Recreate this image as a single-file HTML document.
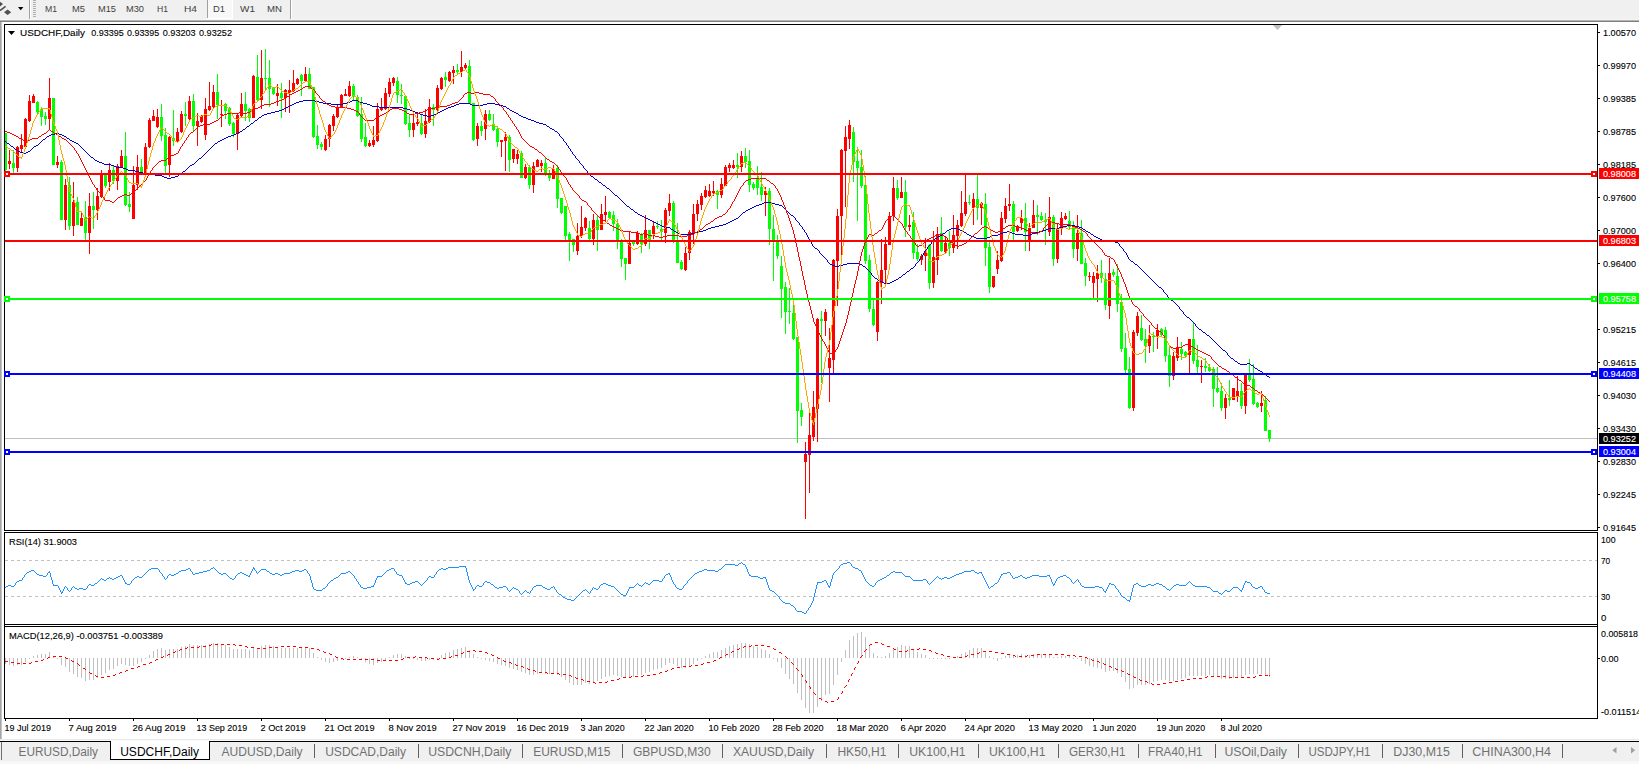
<!DOCTYPE html>
<html><head><meta charset="utf-8"><title>USDCHF,Daily</title>
<style>html,body{margin:0;padding:0;background:#f0f0f0;overflow:hidden}svg{display:block}text{font-family:"Liberation Sans",sans-serif;white-space:pre}</style></head>
<body>
<svg width="1639" height="764" viewBox="0 0 1639 764">
<rect x="0" y="0" width="1639" height="764" fill="#f0f0f0"/>
<rect x="0" y="19" width="1639" height="1" fill="#f6f6f6"/>
<rect x="0" y="20" width="1639" height="1" fill="#b4b4b4"/>
<rect x="0" y="21" width="1639" height="1" fill="#808080"/>
<rect x="1" y="22" width="1638" height="717" fill="#ffffff"/>
<rect x="0" y="22" width="1" height="718" fill="#a6a6a6"/>
<rect x="1" y="22" width="1" height="718" fill="#c4c4c4"/>
<g fill="#505050"><path d="M0 1.8 L3 4 L0 6.4 Z"/><path d="M4 12.3 L7.6 9.5 L11.2 12.3 L7.6 15.1 Z"/></g>
<path d="M0 10.6 L5.6 6.3" stroke="#505050" stroke-width="1.6" fill="none"/>
<path d="M18 7 L23.4 7 L20.7 10.3 Z" fill="#000"/>
<rect x="29" y="0" width="1" height="19" fill="#a0a0a0"/>
<rect x="30" y="0" width="1" height="19" fill="#ffffff"/>
<rect x="33" y="0" width="3" height="1" fill="#b0b0b0"/>
<rect x="33" y="2" width="3" height="1" fill="#b0b0b0"/>
<rect x="33" y="4" width="3" height="1" fill="#b0b0b0"/>
<rect x="33" y="6" width="3" height="1" fill="#b0b0b0"/>
<rect x="33" y="8" width="3" height="1" fill="#b0b0b0"/>
<rect x="33" y="10" width="3" height="1" fill="#b0b0b0"/>
<rect x="33" y="12" width="3" height="1" fill="#b0b0b0"/>
<rect x="33" y="14" width="3" height="1" fill="#b0b0b0"/>
<rect x="33" y="16" width="3" height="1" fill="#b0b0b0"/>
<rect x="208" y="0" width="25" height="18" fill="#f8f8f8"/>
<rect x="207" y="0" width="1" height="18" fill="#a0a0a0"/>
<rect x="232" y="0" width="1" height="19" fill="#ffffff"/>
<rect x="207" y="18" width="26" height="1" fill="#ffffff"/>
<text x="45" y="12" font-size="9.6" fill="#404040" textLength="12" lengthAdjust="spacingAndGlyphs">M1</text>
<text x="72" y="12" font-size="9.6" fill="#404040" textLength="13" lengthAdjust="spacingAndGlyphs">M5</text>
<text x="98" y="12" font-size="9.6" fill="#404040" textLength="18" lengthAdjust="spacingAndGlyphs">M15</text>
<text x="126" y="12" font-size="9.6" fill="#404040" textLength="18" lengthAdjust="spacingAndGlyphs">M30</text>
<text x="157" y="12" font-size="9.6" fill="#404040" textLength="11" lengthAdjust="spacingAndGlyphs">H1</text>
<text x="184" y="12" font-size="9.6" fill="#404040" textLength="13" lengthAdjust="spacingAndGlyphs">H4</text>
<text x="213" y="12" font-size="9.6" fill="#404040" textLength="12" lengthAdjust="spacingAndGlyphs">D1</text>
<text x="240" y="12" font-size="9.6" fill="#404040" textLength="15" lengthAdjust="spacingAndGlyphs">W1</text>
<text x="267" y="12" font-size="9.6" fill="#404040" textLength="15" lengthAdjust="spacingAndGlyphs">MN</text>
<rect x="290" y="0" width="1" height="19" fill="#a0a0a0"/>
<rect x="291" y="0" width="1" height="19" fill="#ffffff"/>
<path d="M1272.8 25 L1282.2 25 L1277.5 30 Z" fill="#c0c0c0"/>
<rect x="5" y="438" width="1592" height="1" fill="#c0c0c0"/>
<g shape-rendering="crispEdges">
<rect x="5" y="133" width="1" height="38" fill="#00ff00"/>
<rect x="4" y="133" width="3" height="37" fill="#00ff00"/>
<rect x="9" y="150" width="1" height="19" fill="#ff0000"/>
<rect x="8" y="161" width="3" height="3" fill="#ff0000"/>
<rect x="13" y="150" width="1" height="23" fill="#00ff00"/>
<rect x="12" y="163" width="3" height="5" fill="#00ff00"/>
<rect x="17" y="146" width="1" height="26" fill="#ff0000"/>
<rect x="16" y="147" width="3" height="21" fill="#ff0000"/>
<rect x="21" y="134" width="1" height="19" fill="#ff0000"/>
<rect x="20" y="145" width="3" height="4" fill="#ff0000"/>
<rect x="25" y="118" width="1" height="29" fill="#ff0000"/>
<rect x="24" y="119" width="3" height="28" fill="#ff0000"/>
<rect x="29" y="95" width="1" height="27" fill="#ff0000"/>
<rect x="28" y="101" width="3" height="20" fill="#ff0000"/>
<rect x="33" y="94" width="1" height="9" fill="#ff0000"/>
<rect x="32" y="96" width="3" height="7" fill="#ff0000"/>
<rect x="37" y="101" width="1" height="14" fill="#00ff00"/>
<rect x="36" y="102" width="3" height="10" fill="#00ff00"/>
<rect x="41" y="107" width="1" height="19" fill="#00ff00"/>
<rect x="40" y="109" width="3" height="8" fill="#00ff00"/>
<rect x="45" y="112" width="1" height="13" fill="#00ff00"/>
<rect x="44" y="116" width="3" height="3" fill="#00ff00"/>
<rect x="49" y="78" width="1" height="51" fill="#ff0000"/>
<rect x="48" y="98" width="3" height="21" fill="#ff0000"/>
<rect x="53" y="98" width="1" height="67" fill="#00ff00"/>
<rect x="52" y="98" width="3" height="67" fill="#00ff00"/>
<rect x="57" y="156" width="1" height="12" fill="#ff0000"/>
<rect x="56" y="162" width="3" height="3" fill="#ff0000"/>
<rect x="61" y="160" width="1" height="60" fill="#00ff00"/>
<rect x="60" y="162" width="3" height="58" fill="#00ff00"/>
<rect x="65" y="179" width="1" height="51" fill="#ff0000"/>
<rect x="64" y="185" width="3" height="35" fill="#ff0000"/>
<rect x="69" y="177" width="1" height="53" fill="#00ff00"/>
<rect x="68" y="185" width="3" height="41" fill="#00ff00"/>
<rect x="73" y="182" width="1" height="54" fill="#ff0000"/>
<rect x="72" y="202" width="3" height="24" fill="#ff0000"/>
<rect x="77" y="197" width="1" height="28" fill="#00ff00"/>
<rect x="76" y="202" width="3" height="23" fill="#00ff00"/>
<rect x="81" y="213" width="1" height="13" fill="#ff0000"/>
<rect x="80" y="218" width="3" height="8" fill="#ff0000"/>
<rect x="85" y="201" width="1" height="39" fill="#00ff00"/>
<rect x="84" y="217" width="3" height="16" fill="#00ff00"/>
<rect x="89" y="193" width="1" height="61" fill="#ff0000"/>
<rect x="88" y="206" width="3" height="27" fill="#ff0000"/>
<rect x="93" y="192" width="1" height="37" fill="#00ff00"/>
<rect x="92" y="206" width="3" height="4" fill="#00ff00"/>
<rect x="97" y="188" width="1" height="32" fill="#ff0000"/>
<rect x="96" y="196" width="3" height="14" fill="#ff0000"/>
<rect x="101" y="170" width="1" height="28" fill="#ff0000"/>
<rect x="100" y="174" width="3" height="23" fill="#ff0000"/>
<rect x="105" y="174" width="1" height="14" fill="#00ff00"/>
<rect x="104" y="174" width="3" height="12" fill="#00ff00"/>
<rect x="109" y="163" width="1" height="28" fill="#ff0000"/>
<rect x="108" y="170" width="3" height="12" fill="#ff0000"/>
<rect x="113" y="166" width="1" height="18" fill="#00ff00"/>
<rect x="112" y="170" width="3" height="11" fill="#00ff00"/>
<rect x="117" y="164" width="1" height="26" fill="#ff0000"/>
<rect x="116" y="166" width="3" height="15" fill="#ff0000"/>
<rect x="121" y="150" width="1" height="18" fill="#ff0000"/>
<rect x="120" y="156" width="3" height="11" fill="#ff0000"/>
<rect x="125" y="132" width="1" height="74" fill="#00ff00"/>
<rect x="124" y="156" width="3" height="49" fill="#00ff00"/>
<rect x="129" y="192" width="1" height="20" fill="#00ff00"/>
<rect x="128" y="204" width="3" height="3" fill="#00ff00"/>
<rect x="133" y="166" width="1" height="53" fill="#ff0000"/>
<rect x="132" y="185" width="3" height="34" fill="#ff0000"/>
<rect x="137" y="155" width="1" height="35" fill="#ff0000"/>
<rect x="136" y="167" width="3" height="18" fill="#ff0000"/>
<rect x="141" y="159" width="1" height="15" fill="#00ff00"/>
<rect x="140" y="167" width="3" height="6" fill="#00ff00"/>
<rect x="145" y="143" width="1" height="31" fill="#ff0000"/>
<rect x="144" y="147" width="3" height="26" fill="#ff0000"/>
<rect x="149" y="118" width="1" height="30" fill="#ff0000"/>
<rect x="148" y="120" width="3" height="27" fill="#ff0000"/>
<rect x="153" y="110" width="1" height="11" fill="#ff0000"/>
<rect x="152" y="116" width="3" height="5" fill="#ff0000"/>
<rect x="157" y="109" width="1" height="19" fill="#ff0000"/>
<rect x="156" y="117" width="3" height="10" fill="#ff0000"/>
<rect x="161" y="104" width="1" height="37" fill="#00ff00"/>
<rect x="160" y="117" width="3" height="19" fill="#00ff00"/>
<rect x="165" y="128" width="1" height="45" fill="#00ff00"/>
<rect x="164" y="135" width="3" height="31" fill="#00ff00"/>
<rect x="169" y="136" width="1" height="41" fill="#ff0000"/>
<rect x="168" y="137" width="3" height="28" fill="#ff0000"/>
<rect x="173" y="110" width="1" height="36" fill="#00ff00"/>
<rect x="172" y="138" width="3" height="3" fill="#00ff00"/>
<rect x="177" y="128" width="1" height="15" fill="#ff0000"/>
<rect x="176" y="132" width="3" height="9" fill="#ff0000"/>
<rect x="181" y="111" width="1" height="22" fill="#ff0000"/>
<rect x="180" y="114" width="3" height="18" fill="#ff0000"/>
<rect x="185" y="102" width="1" height="24" fill="#00ff00"/>
<rect x="184" y="114" width="3" height="2" fill="#00ff00"/>
<rect x="189" y="96" width="1" height="24" fill="#ff0000"/>
<rect x="188" y="101" width="3" height="18" fill="#ff0000"/>
<rect x="193" y="94" width="1" height="37" fill="#00ff00"/>
<rect x="192" y="101" width="3" height="25" fill="#00ff00"/>
<rect x="197" y="113" width="1" height="33" fill="#ff0000"/>
<rect x="196" y="121" width="3" height="5" fill="#ff0000"/>
<rect x="201" y="115" width="1" height="8" fill="#ff0000"/>
<rect x="200" y="116" width="3" height="6" fill="#ff0000"/>
<rect x="205" y="98" width="1" height="42" fill="#ff0000"/>
<rect x="204" y="109" width="3" height="26" fill="#ff0000"/>
<rect x="209" y="82" width="1" height="29" fill="#ff0000"/>
<rect x="208" y="106" width="3" height="4" fill="#ff0000"/>
<rect x="213" y="85" width="1" height="23" fill="#ff0000"/>
<rect x="212" y="92" width="3" height="15" fill="#ff0000"/>
<rect x="217" y="74" width="1" height="45" fill="#00ff00"/>
<rect x="216" y="92" width="3" height="13" fill="#00ff00"/>
<rect x="221" y="100" width="1" height="27" fill="#ff0000"/>
<rect x="220" y="114" width="3" height="1" fill="#ff0000"/>
<rect x="225" y="103" width="1" height="16" fill="#00ff00"/>
<rect x="224" y="104" width="3" height="7" fill="#00ff00"/>
<rect x="229" y="107" width="1" height="19" fill="#00ff00"/>
<rect x="228" y="108" width="3" height="16" fill="#00ff00"/>
<rect x="233" y="122" width="1" height="15" fill="#00ff00"/>
<rect x="232" y="123" width="3" height="11" fill="#00ff00"/>
<rect x="237" y="114" width="1" height="36" fill="#ff0000"/>
<rect x="236" y="115" width="3" height="19" fill="#ff0000"/>
<rect x="241" y="93" width="1" height="24" fill="#ff0000"/>
<rect x="240" y="104" width="3" height="12" fill="#ff0000"/>
<rect x="245" y="92" width="1" height="29" fill="#00ff00"/>
<rect x="244" y="104" width="3" height="7" fill="#00ff00"/>
<rect x="249" y="108" width="1" height="14" fill="#00ff00"/>
<rect x="248" y="109" width="3" height="9" fill="#00ff00"/>
<rect x="253" y="75" width="1" height="43" fill="#ff0000"/>
<rect x="252" y="76" width="3" height="42" fill="#ff0000"/>
<rect x="257" y="55" width="1" height="46" fill="#00ff00"/>
<rect x="256" y="77" width="3" height="23" fill="#00ff00"/>
<rect x="261" y="50" width="1" height="59" fill="#ff0000"/>
<rect x="260" y="78" width="3" height="22" fill="#ff0000"/>
<rect x="265" y="49" width="1" height="41" fill="#00ff00"/>
<rect x="264" y="78" width="3" height="1" fill="#00ff00"/>
<rect x="269" y="60" width="1" height="47" fill="#00ff00"/>
<rect x="268" y="78" width="3" height="11" fill="#00ff00"/>
<rect x="273" y="87" width="1" height="8" fill="#00ff00"/>
<rect x="272" y="88" width="3" height="6" fill="#00ff00"/>
<rect x="277" y="84" width="1" height="22" fill="#ff0000"/>
<rect x="276" y="93" width="3" height="3" fill="#ff0000"/>
<rect x="281" y="83" width="1" height="35" fill="#00ff00"/>
<rect x="280" y="93" width="3" height="5" fill="#00ff00"/>
<rect x="285" y="89" width="1" height="23" fill="#ff0000"/>
<rect x="284" y="90" width="3" height="8" fill="#ff0000"/>
<rect x="289" y="80" width="1" height="33" fill="#ff0000"/>
<rect x="288" y="90" width="3" height="3" fill="#ff0000"/>
<rect x="293" y="70" width="1" height="22" fill="#ff0000"/>
<rect x="292" y="83" width="3" height="8" fill="#ff0000"/>
<rect x="297" y="78" width="1" height="7" fill="#ff0000"/>
<rect x="296" y="79" width="3" height="5" fill="#ff0000"/>
<rect x="301" y="74" width="1" height="22" fill="#00ff00"/>
<rect x="300" y="75" width="3" height="6" fill="#00ff00"/>
<rect x="305" y="67" width="1" height="15" fill="#ff0000"/>
<rect x="304" y="74" width="3" height="7" fill="#ff0000"/>
<rect x="309" y="68" width="1" height="21" fill="#00ff00"/>
<rect x="308" y="74" width="3" height="15" fill="#00ff00"/>
<rect x="313" y="87" width="1" height="51" fill="#00ff00"/>
<rect x="312" y="87" width="3" height="50" fill="#00ff00"/>
<rect x="317" y="125" width="1" height="24" fill="#00ff00"/>
<rect x="316" y="136" width="3" height="9" fill="#00ff00"/>
<rect x="321" y="142" width="1" height="8" fill="#00ff00"/>
<rect x="320" y="144" width="3" height="3" fill="#00ff00"/>
<rect x="325" y="135" width="1" height="16" fill="#ff0000"/>
<rect x="324" y="139" width="3" height="11" fill="#ff0000"/>
<rect x="329" y="124" width="1" height="23" fill="#ff0000"/>
<rect x="328" y="125" width="3" height="14" fill="#ff0000"/>
<rect x="333" y="114" width="1" height="17" fill="#ff0000"/>
<rect x="332" y="116" width="3" height="10" fill="#ff0000"/>
<rect x="337" y="105" width="1" height="13" fill="#ff0000"/>
<rect x="336" y="107" width="3" height="10" fill="#ff0000"/>
<rect x="341" y="94" width="1" height="14" fill="#ff0000"/>
<rect x="340" y="95" width="3" height="13" fill="#ff0000"/>
<rect x="345" y="89" width="1" height="7" fill="#ff0000"/>
<rect x="344" y="94" width="3" height="2" fill="#ff0000"/>
<rect x="349" y="81" width="1" height="16" fill="#ff0000"/>
<rect x="348" y="86" width="3" height="10" fill="#ff0000"/>
<rect x="353" y="84" width="1" height="16" fill="#00ff00"/>
<rect x="352" y="86" width="3" height="11" fill="#00ff00"/>
<rect x="357" y="95" width="1" height="22" fill="#00ff00"/>
<rect x="356" y="97" width="3" height="19" fill="#00ff00"/>
<rect x="361" y="97" width="1" height="45" fill="#00ff00"/>
<rect x="360" y="114" width="3" height="25" fill="#00ff00"/>
<rect x="365" y="123" width="1" height="24" fill="#00ff00"/>
<rect x="364" y="137" width="3" height="9" fill="#00ff00"/>
<rect x="369" y="140" width="1" height="7" fill="#ff0000"/>
<rect x="368" y="143" width="3" height="3" fill="#ff0000"/>
<rect x="373" y="126" width="1" height="21" fill="#ff0000"/>
<rect x="372" y="140" width="3" height="5" fill="#ff0000"/>
<rect x="377" y="103" width="1" height="39" fill="#ff0000"/>
<rect x="376" y="109" width="3" height="32" fill="#ff0000"/>
<rect x="381" y="98" width="1" height="13" fill="#ff0000"/>
<rect x="380" y="107" width="3" height="3" fill="#ff0000"/>
<rect x="385" y="88" width="1" height="22" fill="#ff0000"/>
<rect x="384" y="93" width="3" height="16" fill="#ff0000"/>
<rect x="389" y="78" width="1" height="19" fill="#ff0000"/>
<rect x="388" y="82" width="3" height="12" fill="#ff0000"/>
<rect x="393" y="77" width="1" height="9" fill="#ff0000"/>
<rect x="392" y="78" width="3" height="5" fill="#ff0000"/>
<rect x="397" y="77" width="1" height="26" fill="#00ff00"/>
<rect x="396" y="81" width="3" height="14" fill="#00ff00"/>
<rect x="401" y="84" width="1" height="20" fill="#00ff00"/>
<rect x="400" y="95" width="3" height="1" fill="#00ff00"/>
<rect x="405" y="95" width="1" height="30" fill="#00ff00"/>
<rect x="404" y="96" width="3" height="28" fill="#00ff00"/>
<rect x="409" y="115" width="1" height="22" fill="#00ff00"/>
<rect x="408" y="123" width="3" height="7" fill="#00ff00"/>
<rect x="413" y="115" width="1" height="22" fill="#ff0000"/>
<rect x="412" y="123" width="3" height="7" fill="#ff0000"/>
<rect x="417" y="114" width="1" height="12" fill="#ff0000"/>
<rect x="416" y="122" width="3" height="2" fill="#ff0000"/>
<rect x="421" y="115" width="1" height="20" fill="#00ff00"/>
<rect x="420" y="123" width="3" height="11" fill="#00ff00"/>
<rect x="425" y="109" width="1" height="29" fill="#ff0000"/>
<rect x="424" y="121" width="3" height="13" fill="#ff0000"/>
<rect x="429" y="99" width="1" height="24" fill="#ff0000"/>
<rect x="428" y="107" width="3" height="15" fill="#ff0000"/>
<rect x="433" y="104" width="1" height="22" fill="#00ff00"/>
<rect x="432" y="107" width="3" height="3" fill="#00ff00"/>
<rect x="437" y="85" width="1" height="26" fill="#ff0000"/>
<rect x="436" y="88" width="3" height="22" fill="#ff0000"/>
<rect x="441" y="77" width="1" height="13" fill="#ff0000"/>
<rect x="440" y="78" width="3" height="11" fill="#ff0000"/>
<rect x="445" y="72" width="1" height="15" fill="#00ff00"/>
<rect x="444" y="77" width="3" height="3" fill="#00ff00"/>
<rect x="449" y="71" width="1" height="11" fill="#ff0000"/>
<rect x="448" y="72" width="3" height="9" fill="#ff0000"/>
<rect x="453" y="66" width="1" height="18" fill="#ff0000"/>
<rect x="452" y="70" width="3" height="3" fill="#ff0000"/>
<rect x="457" y="64" width="1" height="10" fill="#00ff00"/>
<rect x="456" y="70" width="3" height="2" fill="#00ff00"/>
<rect x="461" y="51" width="1" height="26" fill="#ff0000"/>
<rect x="460" y="67" width="3" height="5" fill="#ff0000"/>
<rect x="465" y="63" width="1" height="6" fill="#ff0000"/>
<rect x="464" y="65" width="3" height="3" fill="#ff0000"/>
<rect x="469" y="60" width="1" height="44" fill="#00ff00"/>
<rect x="468" y="66" width="3" height="38" fill="#00ff00"/>
<rect x="473" y="103" width="1" height="38" fill="#00ff00"/>
<rect x="472" y="103" width="3" height="37" fill="#00ff00"/>
<rect x="477" y="123" width="1" height="23" fill="#ff0000"/>
<rect x="476" y="126" width="3" height="13" fill="#ff0000"/>
<rect x="481" y="121" width="1" height="15" fill="#00ff00"/>
<rect x="480" y="126" width="3" height="5" fill="#00ff00"/>
<rect x="485" y="110" width="1" height="30" fill="#ff0000"/>
<rect x="484" y="114" width="3" height="15" fill="#ff0000"/>
<rect x="489" y="110" width="1" height="11" fill="#00ff00"/>
<rect x="488" y="114" width="3" height="6" fill="#00ff00"/>
<rect x="493" y="114" width="1" height="17" fill="#00ff00"/>
<rect x="492" y="124" width="3" height="6" fill="#00ff00"/>
<rect x="497" y="126" width="1" height="21" fill="#00ff00"/>
<rect x="496" y="129" width="3" height="13" fill="#00ff00"/>
<rect x="501" y="140" width="1" height="17" fill="#ff0000"/>
<rect x="500" y="140" width="3" height="2" fill="#ff0000"/>
<rect x="505" y="132" width="1" height="39" fill="#ff0000"/>
<rect x="504" y="137" width="3" height="4" fill="#ff0000"/>
<rect x="509" y="135" width="1" height="37" fill="#00ff00"/>
<rect x="508" y="137" width="3" height="23" fill="#00ff00"/>
<rect x="513" y="149" width="1" height="14" fill="#ff0000"/>
<rect x="512" y="149" width="3" height="10" fill="#ff0000"/>
<rect x="517" y="150" width="1" height="14" fill="#ff0000"/>
<rect x="516" y="154" width="3" height="5" fill="#ff0000"/>
<rect x="521" y="151" width="1" height="27" fill="#00ff00"/>
<rect x="520" y="153" width="3" height="25" fill="#00ff00"/>
<rect x="525" y="164" width="1" height="15" fill="#ff0000"/>
<rect x="524" y="167" width="3" height="11" fill="#ff0000"/>
<rect x="529" y="165" width="1" height="24" fill="#00ff00"/>
<rect x="528" y="167" width="3" height="18" fill="#00ff00"/>
<rect x="533" y="162" width="1" height="31" fill="#ff0000"/>
<rect x="532" y="166" width="3" height="19" fill="#ff0000"/>
<rect x="537" y="159" width="1" height="8" fill="#ff0000"/>
<rect x="536" y="160" width="3" height="7" fill="#ff0000"/>
<rect x="541" y="160" width="1" height="12" fill="#ff0000"/>
<rect x="540" y="163" width="3" height="3" fill="#ff0000"/>
<rect x="545" y="158" width="1" height="18" fill="#00ff00"/>
<rect x="544" y="163" width="3" height="10" fill="#00ff00"/>
<rect x="549" y="170" width="1" height="11" fill="#00ff00"/>
<rect x="548" y="175" width="3" height="3" fill="#00ff00"/>
<rect x="553" y="165" width="1" height="14" fill="#ff0000"/>
<rect x="552" y="169" width="3" height="10" fill="#ff0000"/>
<rect x="557" y="165" width="1" height="43" fill="#00ff00"/>
<rect x="556" y="168" width="3" height="31" fill="#00ff00"/>
<rect x="561" y="198" width="1" height="16" fill="#00ff00"/>
<rect x="560" y="198" width="3" height="15" fill="#00ff00"/>
<rect x="565" y="206" width="1" height="34" fill="#00ff00"/>
<rect x="564" y="206" width="3" height="30" fill="#00ff00"/>
<rect x="569" y="232" width="1" height="29" fill="#00ff00"/>
<rect x="568" y="234" width="3" height="7" fill="#00ff00"/>
<rect x="573" y="239" width="1" height="13" fill="#00ff00"/>
<rect x="572" y="239" width="3" height="6" fill="#00ff00"/>
<rect x="577" y="223" width="1" height="32" fill="#ff0000"/>
<rect x="576" y="236" width="3" height="15" fill="#ff0000"/>
<rect x="581" y="206" width="1" height="32" fill="#ff0000"/>
<rect x="580" y="227" width="3" height="9" fill="#ff0000"/>
<rect x="585" y="217" width="1" height="14" fill="#ff0000"/>
<rect x="584" y="218" width="3" height="10" fill="#ff0000"/>
<rect x="589" y="221" width="1" height="19" fill="#00ff00"/>
<rect x="588" y="228" width="3" height="11" fill="#00ff00"/>
<rect x="593" y="214" width="1" height="31" fill="#ff0000"/>
<rect x="592" y="220" width="3" height="19" fill="#ff0000"/>
<rect x="597" y="216" width="1" height="35" fill="#00ff00"/>
<rect x="596" y="220" width="3" height="10" fill="#00ff00"/>
<rect x="601" y="204" width="1" height="26" fill="#ff0000"/>
<rect x="600" y="214" width="3" height="16" fill="#ff0000"/>
<rect x="605" y="196" width="1" height="25" fill="#ff0000"/>
<rect x="604" y="212" width="3" height="3" fill="#ff0000"/>
<rect x="609" y="211" width="1" height="7" fill="#00ff00"/>
<rect x="608" y="212" width="3" height="6" fill="#00ff00"/>
<rect x="613" y="211" width="1" height="20" fill="#00ff00"/>
<rect x="612" y="215" width="3" height="9" fill="#00ff00"/>
<rect x="617" y="219" width="1" height="30" fill="#00ff00"/>
<rect x="616" y="224" width="3" height="16" fill="#00ff00"/>
<rect x="621" y="239" width="1" height="28" fill="#00ff00"/>
<rect x="620" y="242" width="3" height="17" fill="#00ff00"/>
<rect x="625" y="258" width="1" height="22" fill="#00ff00"/>
<rect x="624" y="258" width="3" height="6" fill="#00ff00"/>
<rect x="629" y="232" width="1" height="32" fill="#ff0000"/>
<rect x="628" y="243" width="3" height="21" fill="#ff0000"/>
<rect x="633" y="242" width="1" height="4" fill="#00ff00"/>
<rect x="632" y="242" width="3" height="2" fill="#00ff00"/>
<rect x="637" y="231" width="1" height="14" fill="#ff0000"/>
<rect x="636" y="233" width="3" height="11" fill="#ff0000"/>
<rect x="641" y="233" width="1" height="20" fill="#00ff00"/>
<rect x="640" y="234" width="3" height="10" fill="#00ff00"/>
<rect x="645" y="215" width="1" height="31" fill="#ff0000"/>
<rect x="644" y="230" width="3" height="14" fill="#ff0000"/>
<rect x="649" y="230" width="1" height="19" fill="#00ff00"/>
<rect x="648" y="230" width="3" height="11" fill="#00ff00"/>
<rect x="653" y="222" width="1" height="17" fill="#ff0000"/>
<rect x="652" y="226" width="3" height="8" fill="#ff0000"/>
<rect x="657" y="221" width="1" height="8" fill="#00ff00"/>
<rect x="656" y="226" width="3" height="1" fill="#00ff00"/>
<rect x="661" y="220" width="1" height="21" fill="#00ff00"/>
<rect x="660" y="229" width="3" height="3" fill="#00ff00"/>
<rect x="665" y="208" width="1" height="35" fill="#ff0000"/>
<rect x="664" y="210" width="3" height="23" fill="#ff0000"/>
<rect x="669" y="194" width="1" height="22" fill="#ff0000"/>
<rect x="668" y="203" width="3" height="8" fill="#ff0000"/>
<rect x="673" y="201" width="1" height="42" fill="#00ff00"/>
<rect x="672" y="203" width="3" height="38" fill="#00ff00"/>
<rect x="677" y="223" width="1" height="40" fill="#00ff00"/>
<rect x="676" y="241" width="3" height="22" fill="#00ff00"/>
<rect x="681" y="260" width="1" height="10" fill="#00ff00"/>
<rect x="680" y="262" width="3" height="7" fill="#00ff00"/>
<rect x="685" y="247" width="1" height="24" fill="#ff0000"/>
<rect x="684" y="253" width="3" height="17" fill="#ff0000"/>
<rect x="689" y="230" width="1" height="30" fill="#ff0000"/>
<rect x="688" y="232" width="3" height="21" fill="#ff0000"/>
<rect x="693" y="204" width="1" height="40" fill="#ff0000"/>
<rect x="692" y="214" width="3" height="19" fill="#ff0000"/>
<rect x="697" y="200" width="1" height="21" fill="#ff0000"/>
<rect x="696" y="204" width="3" height="10" fill="#ff0000"/>
<rect x="701" y="193" width="1" height="17" fill="#ff0000"/>
<rect x="700" y="196" width="3" height="9" fill="#ff0000"/>
<rect x="705" y="186" width="1" height="12" fill="#ff0000"/>
<rect x="704" y="190" width="3" height="7" fill="#ff0000"/>
<rect x="709" y="184" width="1" height="13" fill="#ff0000"/>
<rect x="708" y="191" width="3" height="5" fill="#ff0000"/>
<rect x="713" y="181" width="1" height="15" fill="#ff0000"/>
<rect x="712" y="191" width="3" height="2" fill="#ff0000"/>
<rect x="717" y="190" width="1" height="19" fill="#00ff00"/>
<rect x="716" y="191" width="3" height="4" fill="#00ff00"/>
<rect x="721" y="178" width="1" height="20" fill="#ff0000"/>
<rect x="720" y="184" width="3" height="11" fill="#ff0000"/>
<rect x="725" y="165" width="1" height="21" fill="#ff0000"/>
<rect x="724" y="167" width="3" height="19" fill="#ff0000"/>
<rect x="729" y="163" width="1" height="9" fill="#ff0000"/>
<rect x="728" y="165" width="3" height="3" fill="#ff0000"/>
<rect x="733" y="160" width="1" height="9" fill="#ff0000"/>
<rect x="732" y="165" width="3" height="3" fill="#ff0000"/>
<rect x="737" y="153" width="1" height="25" fill="#00ff00"/>
<rect x="736" y="165" width="3" height="2" fill="#00ff00"/>
<rect x="741" y="151" width="1" height="21" fill="#ff0000"/>
<rect x="740" y="156" width="3" height="11" fill="#ff0000"/>
<rect x="745" y="148" width="1" height="20" fill="#00ff00"/>
<rect x="744" y="156" width="3" height="6" fill="#00ff00"/>
<rect x="749" y="150" width="1" height="42" fill="#00ff00"/>
<rect x="748" y="161" width="3" height="24" fill="#00ff00"/>
<rect x="753" y="182" width="1" height="8" fill="#00ff00"/>
<rect x="752" y="184" width="3" height="4" fill="#00ff00"/>
<rect x="757" y="166" width="1" height="29" fill="#00ff00"/>
<rect x="756" y="178" width="3" height="10" fill="#00ff00"/>
<rect x="761" y="172" width="1" height="29" fill="#00ff00"/>
<rect x="760" y="187" width="3" height="8" fill="#00ff00"/>
<rect x="765" y="187" width="1" height="29" fill="#ff0000"/>
<rect x="764" y="191" width="3" height="4" fill="#ff0000"/>
<rect x="769" y="188" width="1" height="57" fill="#00ff00"/>
<rect x="768" y="191" width="3" height="38" fill="#00ff00"/>
<rect x="773" y="215" width="1" height="66" fill="#00ff00"/>
<rect x="772" y="229" width="3" height="12" fill="#00ff00"/>
<rect x="777" y="235" width="1" height="24" fill="#00ff00"/>
<rect x="776" y="241" width="3" height="15" fill="#00ff00"/>
<rect x="781" y="256" width="1" height="62" fill="#00ff00"/>
<rect x="780" y="266" width="3" height="23" fill="#00ff00"/>
<rect x="785" y="282" width="1" height="52" fill="#00ff00"/>
<rect x="784" y="287" width="3" height="25" fill="#00ff00"/>
<rect x="789" y="288" width="1" height="36" fill="#00ff00"/>
<rect x="788" y="311" width="3" height="1" fill="#00ff00"/>
<rect x="793" y="305" width="1" height="35" fill="#00ff00"/>
<rect x="792" y="313" width="3" height="26" fill="#00ff00"/>
<rect x="797" y="337" width="1" height="106" fill="#00ff00"/>
<rect x="796" y="337" width="3" height="74" fill="#00ff00"/>
<rect x="801" y="403" width="1" height="23" fill="#00ff00"/>
<rect x="800" y="410" width="3" height="7" fill="#00ff00"/>
<rect x="805" y="442" width="1" height="77" fill="#ff0000"/>
<rect x="804" y="454" width="3" height="8" fill="#ff0000"/>
<rect x="809" y="413" width="1" height="80" fill="#ff0000"/>
<rect x="808" y="435" width="3" height="20" fill="#ff0000"/>
<rect x="813" y="391" width="1" height="50" fill="#ff0000"/>
<rect x="812" y="407" width="3" height="30" fill="#ff0000"/>
<rect x="817" y="318" width="1" height="124" fill="#ff0000"/>
<rect x="816" y="319" width="3" height="90" fill="#ff0000"/>
<rect x="821" y="311" width="1" height="72" fill="#00ff00"/>
<rect x="820" y="319" width="3" height="2" fill="#00ff00"/>
<rect x="825" y="309" width="1" height="27" fill="#ff0000"/>
<rect x="824" y="312" width="3" height="9" fill="#ff0000"/>
<rect x="829" y="328" width="1" height="74" fill="#ff0000"/>
<rect x="828" y="358" width="3" height="10" fill="#ff0000"/>
<rect x="833" y="259" width="1" height="114" fill="#ff0000"/>
<rect x="832" y="260" width="3" height="100" fill="#ff0000"/>
<rect x="837" y="209" width="1" height="97" fill="#ff0000"/>
<rect x="836" y="216" width="3" height="45" fill="#ff0000"/>
<rect x="841" y="149" width="1" height="106" fill="#ff0000"/>
<rect x="840" y="150" width="3" height="66" fill="#ff0000"/>
<rect x="845" y="126" width="1" height="81" fill="#ff0000"/>
<rect x="844" y="137" width="3" height="14" fill="#ff0000"/>
<rect x="849" y="120" width="1" height="29" fill="#ff0000"/>
<rect x="848" y="125" width="3" height="14" fill="#ff0000"/>
<rect x="853" y="127" width="1" height="55" fill="#00ff00"/>
<rect x="852" y="132" width="3" height="30" fill="#00ff00"/>
<rect x="857" y="147" width="1" height="74" fill="#00ff00"/>
<rect x="856" y="161" width="3" height="7" fill="#00ff00"/>
<rect x="861" y="150" width="1" height="38" fill="#00ff00"/>
<rect x="860" y="167" width="3" height="19" fill="#00ff00"/>
<rect x="865" y="176" width="1" height="88" fill="#00ff00"/>
<rect x="864" y="185" width="3" height="76" fill="#00ff00"/>
<rect x="869" y="255" width="1" height="57" fill="#00ff00"/>
<rect x="868" y="260" width="3" height="49" fill="#00ff00"/>
<rect x="873" y="300" width="1" height="26" fill="#00ff00"/>
<rect x="872" y="309" width="3" height="16" fill="#00ff00"/>
<rect x="877" y="281" width="1" height="60" fill="#ff0000"/>
<rect x="876" y="282" width="3" height="50" fill="#ff0000"/>
<rect x="881" y="239" width="1" height="65" fill="#ff0000"/>
<rect x="880" y="270" width="3" height="13" fill="#ff0000"/>
<rect x="885" y="237" width="1" height="50" fill="#ff0000"/>
<rect x="884" y="244" width="3" height="26" fill="#ff0000"/>
<rect x="889" y="212" width="1" height="33" fill="#ff0000"/>
<rect x="888" y="216" width="3" height="29" fill="#ff0000"/>
<rect x="893" y="177" width="1" height="44" fill="#ff0000"/>
<rect x="892" y="188" width="3" height="28" fill="#ff0000"/>
<rect x="897" y="180" width="1" height="20" fill="#00ff00"/>
<rect x="896" y="188" width="3" height="10" fill="#00ff00"/>
<rect x="901" y="177" width="1" height="21" fill="#ff0000"/>
<rect x="900" y="192" width="3" height="6" fill="#ff0000"/>
<rect x="905" y="180" width="1" height="57" fill="#00ff00"/>
<rect x="904" y="192" width="3" height="35" fill="#00ff00"/>
<rect x="909" y="215" width="1" height="16" fill="#ff0000"/>
<rect x="908" y="225" width="3" height="2" fill="#ff0000"/>
<rect x="913" y="212" width="1" height="47" fill="#00ff00"/>
<rect x="912" y="222" width="3" height="31" fill="#00ff00"/>
<rect x="917" y="244" width="1" height="17" fill="#00ff00"/>
<rect x="916" y="252" width="3" height="7" fill="#00ff00"/>
<rect x="921" y="254" width="1" height="11" fill="#ff0000"/>
<rect x="920" y="256" width="3" height="4" fill="#ff0000"/>
<rect x="925" y="238" width="1" height="33" fill="#ff0000"/>
<rect x="924" y="252" width="3" height="4" fill="#ff0000"/>
<rect x="929" y="244" width="1" height="45" fill="#00ff00"/>
<rect x="928" y="245" width="3" height="38" fill="#00ff00"/>
<rect x="933" y="231" width="1" height="57" fill="#ff0000"/>
<rect x="932" y="257" width="3" height="26" fill="#ff0000"/>
<rect x="937" y="227" width="1" height="48" fill="#ff0000"/>
<rect x="936" y="234" width="3" height="26" fill="#ff0000"/>
<rect x="941" y="217" width="1" height="35" fill="#00ff00"/>
<rect x="940" y="233" width="3" height="18" fill="#00ff00"/>
<rect x="945" y="236" width="1" height="18" fill="#ff0000"/>
<rect x="944" y="243" width="3" height="9" fill="#ff0000"/>
<rect x="949" y="231" width="1" height="25" fill="#00ff00"/>
<rect x="948" y="243" width="3" height="5" fill="#00ff00"/>
<rect x="953" y="215" width="1" height="38" fill="#ff0000"/>
<rect x="952" y="235" width="3" height="13" fill="#ff0000"/>
<rect x="957" y="220" width="1" height="29" fill="#ff0000"/>
<rect x="956" y="225" width="3" height="11" fill="#ff0000"/>
<rect x="961" y="191" width="1" height="36" fill="#ff0000"/>
<rect x="960" y="213" width="3" height="13" fill="#ff0000"/>
<rect x="965" y="174" width="1" height="42" fill="#ff0000"/>
<rect x="964" y="202" width="3" height="12" fill="#ff0000"/>
<rect x="969" y="195" width="1" height="10" fill="#00ff00"/>
<rect x="968" y="202" width="3" height="1" fill="#00ff00"/>
<rect x="973" y="193" width="1" height="32" fill="#ff0000"/>
<rect x="972" y="199" width="3" height="9" fill="#ff0000"/>
<rect x="977" y="175" width="1" height="45" fill="#00ff00"/>
<rect x="976" y="199" width="3" height="9" fill="#00ff00"/>
<rect x="981" y="202" width="1" height="23" fill="#ff0000"/>
<rect x="980" y="203" width="3" height="5" fill="#ff0000"/>
<rect x="985" y="193" width="1" height="73" fill="#00ff00"/>
<rect x="984" y="204" width="3" height="44" fill="#00ff00"/>
<rect x="989" y="242" width="1" height="51" fill="#00ff00"/>
<rect x="988" y="247" width="3" height="40" fill="#00ff00"/>
<rect x="993" y="276" width="1" height="12" fill="#ff0000"/>
<rect x="992" y="276" width="3" height="11" fill="#ff0000"/>
<rect x="997" y="251" width="1" height="23" fill="#ff0000"/>
<rect x="996" y="260" width="3" height="9" fill="#ff0000"/>
<rect x="1001" y="212" width="1" height="50" fill="#ff0000"/>
<rect x="1000" y="218" width="3" height="43" fill="#ff0000"/>
<rect x="1005" y="198" width="1" height="25" fill="#ff0000"/>
<rect x="1004" y="206" width="3" height="13" fill="#ff0000"/>
<rect x="1009" y="184" width="1" height="27" fill="#ff0000"/>
<rect x="1008" y="204" width="3" height="2" fill="#ff0000"/>
<rect x="1013" y="201" width="1" height="39" fill="#00ff00"/>
<rect x="1012" y="204" width="3" height="28" fill="#00ff00"/>
<rect x="1017" y="225" width="1" height="7" fill="#ff0000"/>
<rect x="1016" y="226" width="3" height="5" fill="#ff0000"/>
<rect x="1021" y="210" width="1" height="20" fill="#ff0000"/>
<rect x="1020" y="218" width="3" height="5" fill="#ff0000"/>
<rect x="1025" y="203" width="1" height="48" fill="#00ff00"/>
<rect x="1024" y="218" width="3" height="14" fill="#00ff00"/>
<rect x="1029" y="223" width="1" height="28" fill="#ff0000"/>
<rect x="1028" y="228" width="3" height="13" fill="#ff0000"/>
<rect x="1033" y="200" width="1" height="28" fill="#ff0000"/>
<rect x="1032" y="215" width="3" height="13" fill="#ff0000"/>
<rect x="1037" y="205" width="1" height="30" fill="#00ff00"/>
<rect x="1036" y="215" width="3" height="2" fill="#00ff00"/>
<rect x="1041" y="212" width="1" height="9" fill="#00ff00"/>
<rect x="1040" y="216" width="3" height="4" fill="#00ff00"/>
<rect x="1045" y="213" width="1" height="32" fill="#00ff00"/>
<rect x="1044" y="220" width="3" height="2" fill="#00ff00"/>
<rect x="1049" y="197" width="1" height="39" fill="#ff0000"/>
<rect x="1048" y="217" width="3" height="15" fill="#ff0000"/>
<rect x="1053" y="215" width="1" height="51" fill="#00ff00"/>
<rect x="1052" y="217" width="3" height="42" fill="#00ff00"/>
<rect x="1057" y="224" width="1" height="39" fill="#ff0000"/>
<rect x="1056" y="228" width="3" height="31" fill="#ff0000"/>
<rect x="1061" y="212" width="1" height="23" fill="#ff0000"/>
<rect x="1060" y="218" width="3" height="10" fill="#ff0000"/>
<rect x="1065" y="213" width="1" height="7" fill="#ff0000"/>
<rect x="1064" y="216" width="3" height="3" fill="#ff0000"/>
<rect x="1069" y="211" width="1" height="18" fill="#00ff00"/>
<rect x="1068" y="221" width="3" height="6" fill="#00ff00"/>
<rect x="1073" y="221" width="1" height="37" fill="#00ff00"/>
<rect x="1072" y="225" width="3" height="24" fill="#00ff00"/>
<rect x="1077" y="215" width="1" height="46" fill="#ff0000"/>
<rect x="1076" y="233" width="3" height="16" fill="#ff0000"/>
<rect x="1081" y="220" width="1" height="44" fill="#00ff00"/>
<rect x="1080" y="233" width="3" height="31" fill="#00ff00"/>
<rect x="1085" y="258" width="1" height="28" fill="#00ff00"/>
<rect x="1084" y="263" width="3" height="13" fill="#00ff00"/>
<rect x="1089" y="272" width="1" height="9" fill="#ff0000"/>
<rect x="1088" y="276" width="3" height="1" fill="#ff0000"/>
<rect x="1093" y="272" width="1" height="26" fill="#ff0000"/>
<rect x="1092" y="276" width="3" height="7" fill="#ff0000"/>
<rect x="1097" y="265" width="1" height="37" fill="#ff0000"/>
<rect x="1096" y="273" width="3" height="6" fill="#ff0000"/>
<rect x="1101" y="260" width="1" height="23" fill="#00ff00"/>
<rect x="1100" y="273" width="3" height="5" fill="#00ff00"/>
<rect x="1105" y="273" width="1" height="37" fill="#00ff00"/>
<rect x="1104" y="279" width="3" height="26" fill="#00ff00"/>
<rect x="1109" y="258" width="1" height="61" fill="#ff0000"/>
<rect x="1108" y="273" width="3" height="33" fill="#ff0000"/>
<rect x="1113" y="269" width="1" height="8" fill="#00ff00"/>
<rect x="1112" y="272" width="3" height="3" fill="#00ff00"/>
<rect x="1117" y="264" width="1" height="48" fill="#00ff00"/>
<rect x="1116" y="276" width="3" height="28" fill="#00ff00"/>
<rect x="1121" y="294" width="1" height="58" fill="#00ff00"/>
<rect x="1120" y="302" width="3" height="47" fill="#00ff00"/>
<rect x="1125" y="333" width="1" height="40" fill="#00ff00"/>
<rect x="1124" y="348" width="3" height="22" fill="#00ff00"/>
<rect x="1129" y="357" width="1" height="52" fill="#00ff00"/>
<rect x="1128" y="369" width="3" height="39" fill="#00ff00"/>
<rect x="1133" y="330" width="1" height="81" fill="#ff0000"/>
<rect x="1132" y="332" width="3" height="76" fill="#ff0000"/>
<rect x="1137" y="312" width="1" height="24" fill="#ff0000"/>
<rect x="1136" y="316" width="3" height="17" fill="#ff0000"/>
<rect x="1141" y="315" width="1" height="26" fill="#00ff00"/>
<rect x="1140" y="328" width="3" height="12" fill="#00ff00"/>
<rect x="1145" y="329" width="1" height="34" fill="#00ff00"/>
<rect x="1144" y="339" width="3" height="7" fill="#00ff00"/>
<rect x="1149" y="325" width="1" height="28" fill="#ff0000"/>
<rect x="1148" y="336" width="3" height="10" fill="#ff0000"/>
<rect x="1153" y="332" width="1" height="20" fill="#00ff00"/>
<rect x="1152" y="336" width="3" height="1" fill="#00ff00"/>
<rect x="1157" y="324" width="1" height="25" fill="#ff0000"/>
<rect x="1156" y="330" width="3" height="6" fill="#ff0000"/>
<rect x="1161" y="328" width="1" height="8" fill="#00ff00"/>
<rect x="1160" y="329" width="3" height="6" fill="#00ff00"/>
<rect x="1165" y="327" width="1" height="35" fill="#00ff00"/>
<rect x="1164" y="330" width="3" height="26" fill="#00ff00"/>
<rect x="1169" y="347" width="1" height="40" fill="#00ff00"/>
<rect x="1168" y="355" width="3" height="21" fill="#00ff00"/>
<rect x="1173" y="352" width="1" height="28" fill="#ff0000"/>
<rect x="1172" y="356" width="3" height="20" fill="#ff0000"/>
<rect x="1177" y="337" width="1" height="24" fill="#ff0000"/>
<rect x="1176" y="347" width="3" height="11" fill="#ff0000"/>
<rect x="1181" y="342" width="1" height="18" fill="#00ff00"/>
<rect x="1180" y="349" width="3" height="5" fill="#00ff00"/>
<rect x="1185" y="351" width="1" height="6" fill="#00ff00"/>
<rect x="1184" y="352" width="3" height="4" fill="#00ff00"/>
<rect x="1189" y="339" width="1" height="34" fill="#ff0000"/>
<rect x="1188" y="339" width="3" height="16" fill="#ff0000"/>
<rect x="1193" y="323" width="1" height="41" fill="#00ff00"/>
<rect x="1192" y="339" width="3" height="22" fill="#00ff00"/>
<rect x="1197" y="345" width="1" height="28" fill="#00ff00"/>
<rect x="1196" y="360" width="3" height="7" fill="#00ff00"/>
<rect x="1201" y="360" width="1" height="23" fill="#ff0000"/>
<rect x="1200" y="366" width="3" height="1" fill="#ff0000"/>
<rect x="1205" y="358" width="1" height="14" fill="#00ff00"/>
<rect x="1204" y="366" width="3" height="2" fill="#00ff00"/>
<rect x="1209" y="364" width="1" height="8" fill="#00ff00"/>
<rect x="1208" y="367" width="3" height="4" fill="#00ff00"/>
<rect x="1213" y="367" width="1" height="40" fill="#00ff00"/>
<rect x="1212" y="369" width="3" height="20" fill="#00ff00"/>
<rect x="1217" y="367" width="1" height="26" fill="#00ff00"/>
<rect x="1216" y="388" width="3" height="4" fill="#00ff00"/>
<rect x="1221" y="383" width="1" height="28" fill="#00ff00"/>
<rect x="1220" y="391" width="3" height="17" fill="#00ff00"/>
<rect x="1225" y="394" width="1" height="25" fill="#ff0000"/>
<rect x="1224" y="398" width="3" height="10" fill="#ff0000"/>
<rect x="1229" y="380" width="1" height="26" fill="#00ff00"/>
<rect x="1228" y="398" width="3" height="2" fill="#00ff00"/>
<rect x="1233" y="388" width="1" height="12" fill="#ff0000"/>
<rect x="1232" y="388" width="3" height="12" fill="#ff0000"/>
<rect x="1237" y="376" width="1" height="26" fill="#ff0000"/>
<rect x="1236" y="391" width="3" height="5" fill="#ff0000"/>
<rect x="1241" y="383" width="1" height="26" fill="#00ff00"/>
<rect x="1240" y="391" width="3" height="15" fill="#00ff00"/>
<rect x="1245" y="374" width="1" height="40" fill="#ff0000"/>
<rect x="1244" y="375" width="3" height="31" fill="#ff0000"/>
<rect x="1249" y="359" width="1" height="23" fill="#00ff00"/>
<rect x="1248" y="375" width="3" height="5" fill="#00ff00"/>
<rect x="1253" y="364" width="1" height="41" fill="#00ff00"/>
<rect x="1252" y="379" width="3" height="25" fill="#00ff00"/>
<rect x="1257" y="402" width="1" height="6" fill="#00ff00"/>
<rect x="1256" y="403" width="3" height="4" fill="#00ff00"/>
<rect x="1261" y="391" width="1" height="21" fill="#ff0000"/>
<rect x="1260" y="403" width="3" height="3" fill="#ff0000"/>
<rect x="1265" y="396" width="1" height="35" fill="#00ff00"/>
<rect x="1264" y="400" width="3" height="31" fill="#00ff00"/>
<rect x="1269" y="430" width="1" height="12" fill="#00ff00"/>
<rect x="1268" y="430" width="3" height="9" fill="#00ff00"/>
</g>
<g shape-rendering="crispEdges">
<path d="M559.5 134v2M563.5 139v2M566.5 143v2M568.5 146v2M570.5 149v2M572.5 152v2M575.5 156v2M579.5 161v2M583.5 166v2M587.5 171v2M795.5 218v2M799.5 223v2M802.5 227v2M804.5 230v2M806.5 233v2M807.5 235v2M808.5 237v2M810.5 240v2M811.5 242v2M812.5 244v2M819.5 251v2M827.5 260v2M871.5 273v2M915.5 264v2M919.5 259v2M922.5 255v2M923.5 253v2M924.5 251v2M927.5 247v2M931.5 242v2M1119.5 244v2M1123.5 249v2M1126.5 253v2M1127.5 255v2M1128.5 257v2M1163.5 290v2M1167.5 295v2M1179.5 307v2M1183.5 312v2M1195.5 324v2M1227.5 353v2M303 100.5h12M352 100.5h6M299 101.5h4M315 101.5h4M350 101.5h2M358 101.5h2M296 102.5h3M319 102.5h4M347 102.5h3M360 102.5h3M294 103.5h2M323 103.5h8M343 103.5h4M363 103.5h4M459 103.5h11M487 103.5h8M292 104.5h2M331 104.5h12M367 104.5h3M456 104.5h3M470 104.5h2M483 104.5h4M495 104.5h4M290 105.5h2M370 105.5h2M454 105.5h2M472 105.5h11M499 105.5h4M288 106.5h2M372 106.5h7M451 106.5h3M503 106.5h3M286 107.5h2M379 107.5h24M448 107.5h3M506 107.5h1M284 108.5h2M403 108.5h4M446 108.5h2M507 108.5h2M282 109.5h2M407 109.5h3M444 109.5h2M509 109.5h1M279 110.5h3M410 110.5h2M442 110.5h2M510 110.5h2M275 111.5h4M412 111.5h3M440 111.5h2M512 111.5h2M271 112.5h4M415 112.5h3M438 112.5h2M514 112.5h2M267 113.5h4M418 113.5h2M436 113.5h2M516 113.5h2M264 114.5h3M420 114.5h3M434 114.5h2M518 114.5h1M262 115.5h2M423 115.5h4M431 115.5h3M519 115.5h2M261 116.5h1M427 116.5h4M521 116.5h2M259 117.5h2M523 117.5h3M258 118.5h1M526 118.5h2M257 119.5h1M528 119.5h3M255 120.5h2M531 120.5h3M254 121.5h1M534 121.5h2M253 122.5h1M536 122.5h3M251 123.5h2M539 123.5h4M250 124.5h1M543 124.5h3M249 125.5h1M546 125.5h1M247 126.5h2M547 126.5h2M246 127.5h1M549 127.5h1M245 128.5h1M550 128.5h2M243 129.5h2M552 129.5h2M242 130.5h1M554 130.5h1M240 131.5h2M555 131.5h2M238 132.5h2M557 132.5h1M55 133.5h4M236 133.5h2M558 133.5h1M51 134.5h4M59 134.5h3M234 134.5h2M49 135.5h2M62 135.5h2M231 135.5h3M47 136.5h2M64 136.5h2M228 136.5h3M560 136.5h1M46 137.5h1M66 137.5h1M226 137.5h2M561 137.5h1M45 138.5h1M67 138.5h2M224 138.5h2M562 138.5h1M43 139.5h2M69 139.5h1M222 139.5h2M42 140.5h1M70 140.5h2M220 140.5h2M5 141.5h1M41 141.5h1M72 141.5h2M218 141.5h2M564 141.5h1M6 142.5h1M40 142.5h1M74 142.5h2M217 142.5h1M565 142.5h1M7 143.5h2M39 143.5h1M76 143.5h2M215 143.5h2M9 144.5h1M38 144.5h1M78 144.5h1M214 144.5h1M10 145.5h1M36 145.5h2M79 145.5h1M213 145.5h1M567 145.5h1M11 146.5h2M34 146.5h2M80 146.5h1M212 146.5h1M13 147.5h1M33 147.5h1M81 147.5h1M211 147.5h1M14 148.5h1M32 148.5h1M82 148.5h1M210 148.5h1M569 148.5h1M15 149.5h2M31 149.5h1M83 149.5h1M209 149.5h1M17 150.5h1M30 150.5h1M84 150.5h1M208 150.5h1M18 151.5h2M28 151.5h2M85 151.5h1M207 151.5h1M571 151.5h1M20 152.5h3M26 152.5h2M86 152.5h1M206 152.5h1M23 153.5h3M87 153.5h1M205 153.5h1M88 154.5h1M204 154.5h1M573 154.5h1M89 155.5h1M203 155.5h1M574 155.5h1M90 156.5h1M202 156.5h1M91 157.5h2M201 157.5h1M93 158.5h1M199 158.5h2M576 158.5h1M94 159.5h1M198 159.5h1M577 159.5h1M95 160.5h2M197 160.5h1M578 160.5h1M97 161.5h2M196 161.5h1M99 162.5h3M195 162.5h1M102 163.5h2M194 163.5h1M580 163.5h1M104 164.5h7M192 164.5h2M581 164.5h1M111 165.5h3M190 165.5h2M582 165.5h1M114 166.5h2M189 166.5h1M116 167.5h7M188 167.5h1M123 168.5h3M187 168.5h1M584 168.5h1M126 169.5h2M186 169.5h1M585 169.5h1M128 170.5h7M185 170.5h1M586 170.5h1M135 171.5h4M183 171.5h2M139 172.5h4M182 172.5h1M143 173.5h4M181 173.5h1M588 173.5h1M147 174.5h8M179 174.5h2M589 174.5h1M155 175.5h7M178 175.5h1M590 175.5h1M162 176.5h2M175 176.5h3M591 176.5h2M164 177.5h3M171 177.5h4M593 177.5h1M167 178.5h4M594 178.5h1M595 179.5h2M597 180.5h1M598 181.5h1M599 182.5h2M601 183.5h1M602 184.5h1M603 185.5h2M605 186.5h1M606 187.5h1M607 188.5h2M609 189.5h1M610 190.5h1M611 191.5h1M612 192.5h1M613 193.5h1M614 194.5h1M615 195.5h2M617 196.5h1M618 197.5h1M619 198.5h1M620 199.5h1M621 200.5h1M622 201.5h1M623 202.5h1M764 202.5h7M624 203.5h1M762 203.5h2M771 203.5h4M625 204.5h1M759 204.5h3M775 204.5h4M626 205.5h1M756 205.5h3M779 205.5h3M627 206.5h2M754 206.5h2M782 206.5h1M629 207.5h1M752 207.5h2M783 207.5h1M630 208.5h1M750 208.5h2M784 208.5h1M631 209.5h2M748 209.5h2M785 209.5h1M633 210.5h1M746 210.5h2M786 210.5h1M634 211.5h1M745 211.5h1M787 211.5h1M635 212.5h2M743 212.5h2M788 212.5h1M637 213.5h1M742 213.5h1M789 213.5h1M638 214.5h2M741 214.5h1M790 214.5h1M640 215.5h2M740 215.5h1M791 215.5h2M642 216.5h2M739 216.5h1M793 216.5h1M644 217.5h2M738 217.5h1M794 217.5h1M646 218.5h2M736 218.5h2M648 219.5h2M734 219.5h2M650 220.5h2M732 220.5h2M796 220.5h1M652 221.5h2M730 221.5h2M797 221.5h1M654 222.5h2M728 222.5h2M798 222.5h1M656 223.5h2M726 223.5h2M658 224.5h2M723 224.5h3M660 225.5h2M719 225.5h4M800 225.5h1M1067 225.5h8M662 226.5h2M715 226.5h4M801 226.5h1M1063 226.5h4M1075 226.5h4M664 227.5h6M711 227.5h4M1059 227.5h4M1079 227.5h3M670 228.5h1M708 228.5h3M951 228.5h7M1048 228.5h11M1082 228.5h1M671 229.5h2M706 229.5h2M803 229.5h1M949 229.5h2M958 229.5h2M1046 229.5h2M1083 229.5h2M673 230.5h1M703 230.5h3M947 230.5h2M960 230.5h2M1043 230.5h3M1085 230.5h1M674 231.5h2M699 231.5h4M946 231.5h1M962 231.5h2M1007 231.5h3M1039 231.5h4M1086 231.5h2M676 232.5h2M695 232.5h4M805 232.5h1M945 232.5h1M964 232.5h2M1003 232.5h4M1010 232.5h2M1035 232.5h4M1088 232.5h2M678 233.5h2M691 233.5h4M943 233.5h2M966 233.5h1M1000 233.5h3M1012 233.5h3M1032 233.5h3M1090 233.5h1M680 234.5h11M942 234.5h1M967 234.5h2M998 234.5h2M1015 234.5h8M1030 234.5h2M1091 234.5h2M940 235.5h2M969 235.5h2M992 235.5h6M1023 235.5h7M1093 235.5h1M938 236.5h2M971 236.5h3M990 236.5h2M1094 236.5h2M937 237.5h1M974 237.5h2M987 237.5h3M1096 237.5h2M935 238.5h2M976 238.5h11M1098 238.5h2M809 239.5h1M934 239.5h1M1100 239.5h2M933 240.5h1M1102 240.5h2M932 241.5h1M1104 241.5h11M1115 242.5h3M1118 243.5h1M930 244.5h1M929 245.5h1M813 246.5h1M928 246.5h1M1120 246.5h1M814 247.5h1M1121 247.5h1M815 248.5h2M1122 248.5h1M817 249.5h1M926 249.5h1M818 250.5h1M925 250.5h1M1124 251.5h1M1125 252.5h1M820 253.5h1M821 254.5h1M822 255.5h1M823 256.5h1M824 257.5h1M921 257.5h1M825 258.5h1M920 258.5h1M826 259.5h1M1129 259.5h1M1130 260.5h1M918 261.5h1M1131 261.5h2M828 262.5h1M917 262.5h1M1133 262.5h1M829 263.5h1M847 263.5h12M916 263.5h1M1134 263.5h1M830 264.5h2M843 264.5h4M859 264.5h3M1135 264.5h2M832 265.5h3M839 265.5h4M862 265.5h1M1137 265.5h1M835 266.5h4M863 266.5h2M914 266.5h1M1138 266.5h1M865 267.5h1M913 267.5h1M1139 267.5h1M866 268.5h1M911 268.5h2M1140 268.5h1M867 269.5h1M910 269.5h1M1141 269.5h1M868 270.5h1M909 270.5h1M1142 270.5h1M869 271.5h1M907 271.5h2M1143 271.5h1M870 272.5h1M906 272.5h1M1144 272.5h1M905 273.5h1M1145 273.5h1M903 274.5h2M1146 274.5h1M872 275.5h1M902 275.5h1M1147 275.5h1M873 276.5h1M901 276.5h1M1148 276.5h1M874 277.5h1M899 277.5h2M1149 277.5h1M875 278.5h2M898 278.5h1M1150 278.5h1M877 279.5h1M896 279.5h2M1151 279.5h1M878 280.5h2M894 280.5h2M1152 280.5h1M880 281.5h2M892 281.5h2M1153 281.5h1M882 282.5h2M890 282.5h2M1154 282.5h1M884 283.5h6M1155 283.5h1M1156 284.5h1M1157 285.5h1M1158 286.5h1M1159 287.5h2M1161 288.5h1M1162 289.5h1M1164 292.5h1M1165 293.5h1M1166 294.5h1M1168 297.5h1M1169 298.5h1M1170 299.5h1M1171 300.5h2M1173 301.5h1M1174 302.5h1M1175 303.5h1M1176 304.5h1M1177 305.5h1M1178 306.5h1M1180 309.5h1M1181 310.5h1M1182 311.5h1M1184 314.5h1M1185 315.5h1M1186 316.5h1M1187 317.5h2M1189 318.5h1M1190 319.5h1M1191 320.5h1M1192 321.5h1M1193 322.5h1M1194 323.5h1M1196 326.5h1M1197 327.5h1M1198 328.5h1M1199 329.5h2M1201 330.5h1M1202 331.5h1M1203 332.5h2M1205 333.5h1M1206 334.5h1M1207 335.5h2M1209 336.5h1M1210 337.5h1M1211 338.5h1M1212 339.5h1M1213 340.5h1M1214 341.5h1M1215 342.5h1M1216 343.5h1M1217 344.5h1M1218 345.5h1M1219 346.5h1M1220 347.5h1M1221 348.5h1M1222 349.5h1M1223 350.5h2M1225 351.5h1M1226 352.5h1M1228 355.5h1M1229 356.5h1M1230 357.5h1M1231 358.5h2M1233 359.5h1M1234 360.5h1M1235 361.5h2M1237 362.5h1M1238 363.5h2M1247 363.5h3M1240 364.5h7M1250 364.5h1M1251 365.5h2M1253 366.5h1M1254 367.5h1M1255 368.5h2M1257 369.5h1M1258 370.5h2M1260 371.5h2M1262 372.5h1M1263 373.5h2M1265 374.5h1M1266 375.5h1M1267 376.5h2M1269 377.5h1" fill="none" stroke="#0000c8" stroke-width="1"/>
<path d="M74.5 148v2M76.5 151v2M78.5 154v2M79.5 156v2M80.5 158v2M81.5 160v2M82.5 162v2M83.5 164v2M84.5 166v2M85.5 168v2M86.5 170v2M87.5 172v2M88.5 174v2M89.5 176v2M90.5 178v2M91.5 180v2M92.5 182v2M94.5 185v2M96.5 188v2M102.5 195v2M104.5 198v2M146.5 178v2M147.5 176v2M148.5 174v2M150.5 171v2M152.5 168v2M178.5 151v2M179.5 149v2M180.5 147v2M182.5 144v2M184.5 141v2M186.5 138v2M188.5 135v2M315.5 91v2M319.5 96v2M359.5 113v2M463.5 95v2M495.5 99v2M503.5 108v2M506.5 112v2M508.5 115v2M510.5 118v2M512.5 121v2M514.5 124v2M516.5 127v2M518.5 130v2M519.5 132v2M520.5 134v2M521.5 136v2M558.5 167v2M560.5 170v2M563.5 174v2M566.5 178v2M567.5 180v2M568.5 182v2M570.5 185v2M572.5 188v2M579.5 196v2M587.5 203v2M591.5 208v2M727.5 210v2M730.5 206v2M731.5 204v2M732.5 202v2M734.5 199v2M735.5 197v2M736.5 195v2M737.5 193v2M738.5 191v2M739.5 189v2M740.5 187v2M743.5 183v2M775.5 186v2M777.5 189v2M778.5 191v2M779.5 193v2M780.5 195v2M781.5 197v3M782.5 200v2M783.5 202v3M784.5 205v2M785.5 207v3M786.5 210v3M787.5 213v2M788.5 215v3M789.5 218v3M790.5 221v3M791.5 224v3M792.5 227v3M793.5 230v4M794.5 234v4M795.5 238v5M796.5 243v4M797.5 247v5M798.5 252v5M799.5 257v4M800.5 261v5M801.5 266v5M802.5 271v5M803.5 276v4M804.5 280v5M805.5 285v5M806.5 290v4M807.5 294v4M808.5 298v4M809.5 302v4M810.5 306v4M811.5 310v4M812.5 314v4M813.5 318v4M814.5 322v2M815.5 324v2M816.5 326v2M817.5 328v3M818.5 331v2M819.5 333v2M820.5 335v2M821.5 337v2M822.5 339v2M824.5 342v2M825.5 344v2M826.5 346v2M827.5 348v2M828.5 350v2M829.5 352v2M835.5 350v2M837.5 347v2M838.5 344v3M839.5 341v3M840.5 338v3M841.5 335v3M842.5 332v3M843.5 329v3M844.5 326v3M845.5 323v3M846.5 319v4M847.5 315v4M848.5 311v4M849.5 306v5M850.5 302v4M851.5 297v5M852.5 293v4M853.5 288v5M854.5 284v4M855.5 280v4M856.5 276v4M857.5 271v5M858.5 266v5M859.5 261v5M860.5 256v5M861.5 252v4M862.5 249v3M863.5 246v3M864.5 243v3M865.5 241v2M866.5 239v2M867.5 237v2M868.5 235v2M882.5 227v2M883.5 225v2M884.5 223v2M885.5 221v2M902.5 224v2M903.5 226v2M904.5 228v2M907.5 232v2M910.5 236v2M912.5 239v2M915.5 243v2M947.5 238v2M1043.5 228v2M1087.5 234v2M1102.5 250v2M1104.5 253v2M1114.5 260v2M1115.5 262v2M1116.5 264v2M1117.5 266v2M1118.5 268v2M1119.5 270v2M1120.5 272v2M1121.5 274v3M1122.5 277v2M1123.5 279v3M1124.5 282v2M1125.5 284v3M1126.5 287v3M1127.5 290v3M1128.5 293v3M1129.5 296v2M1130.5 298v2M1131.5 300v2M1132.5 302v2M1139.5 309v2M1143.5 314v2M1151.5 323v2M1162.5 333v2M1164.5 336v2M1166.5 339v2M1167.5 341v2M1168.5 343v2M1211.5 357v2M305 86.5h5M303 87.5h2M310 87.5h1M302 88.5h1M311 88.5h2M300 89.5h2M313 89.5h1M298 90.5h2M314 90.5h1M296 91.5h2M294 92.5h2M467 92.5h4M475 92.5h4M292 93.5h2M316 93.5h1M465 93.5h2M471 93.5h4M479 93.5h4M290 94.5h2M317 94.5h1M464 94.5h1M483 94.5h7M289 95.5h1M318 95.5h1M490 95.5h1M287 96.5h2M491 96.5h2M286 97.5h1M462 97.5h1M493 97.5h1M284 98.5h2M320 98.5h1M461 98.5h1M494 98.5h1M282 99.5h2M321 99.5h1M460 99.5h1M279 100.5h3M322 100.5h1M459 100.5h1M276 101.5h3M323 101.5h2M458 101.5h1M496 101.5h1M274 102.5h2M325 102.5h1M455 102.5h3M497 102.5h1M271 103.5h3M326 103.5h1M452 103.5h3M498 103.5h1M264 104.5h7M327 104.5h2M450 104.5h2M499 104.5h1M262 105.5h2M329 105.5h2M447 105.5h3M500 105.5h1M260 106.5h2M331 106.5h4M439 106.5h8M501 106.5h1M258 107.5h2M335 107.5h12M435 107.5h4M502 107.5h1M255 108.5h3M347 108.5h4M392 108.5h7M429 108.5h6M253 109.5h2M351 109.5h3M390 109.5h2M399 109.5h3M427 109.5h2M251 110.5h2M354 110.5h2M389 110.5h1M402 110.5h2M426 110.5h1M504 110.5h1M250 111.5h1M356 111.5h2M387 111.5h2M404 111.5h2M423 111.5h3M505 111.5h1M239 112.5h4M247 112.5h3M358 112.5h1M386 112.5h1M406 112.5h1M419 112.5h4M227 113.5h12M243 113.5h4M384 113.5h2M407 113.5h2M415 113.5h4M224 114.5h3M382 114.5h2M409 114.5h6M507 114.5h1M222 115.5h2M360 115.5h1M380 115.5h2M221 116.5h1M361 116.5h1M378 116.5h2M220 117.5h1M362 117.5h1M377 117.5h1M509 117.5h1M219 118.5h1M363 118.5h1M375 118.5h2M218 119.5h1M364 119.5h1M374 119.5h1M216 120.5h2M365 120.5h9M511 120.5h1M214 121.5h2M212 122.5h2M210 123.5h2M513 123.5h1M203 124.5h7M200 125.5h3M198 126.5h2M515 126.5h1M197 127.5h1M196 128.5h1M49 129.5h1M195 129.5h1M517 129.5h1M48 130.5h1M50 130.5h1M194 130.5h1M5 131.5h2M47 131.5h1M51 131.5h2M193 131.5h1M7 132.5h3M46 132.5h1M53 132.5h1M191 132.5h2M10 133.5h2M44 133.5h2M54 133.5h2M190 133.5h1M12 134.5h2M42 134.5h2M56 134.5h2M189 134.5h1M14 135.5h2M41 135.5h1M58 135.5h1M16 136.5h2M39 136.5h2M59 136.5h2M18 137.5h1M38 137.5h1M61 137.5h1M187 137.5h1M19 138.5h2M32 138.5h6M62 138.5h2M522 138.5h1M21 139.5h2M30 139.5h2M64 139.5h2M523 139.5h1M23 140.5h7M66 140.5h1M185 140.5h1M524 140.5h1M67 141.5h1M525 141.5h1M68 142.5h1M526 142.5h1M69 143.5h1M183 143.5h1M527 143.5h1M70 144.5h1M528 144.5h1M71 145.5h1M529 145.5h1M72 146.5h1M181 146.5h1M530 146.5h2M73 147.5h1M532 147.5h2M534 148.5h1M535 149.5h2M75 150.5h1M537 150.5h1M538 151.5h1M539 152.5h2M77 153.5h1M176 153.5h2M541 153.5h1M174 154.5h2M542 154.5h1M171 155.5h3M543 155.5h1M169 156.5h2M544 156.5h1M168 157.5h1M545 157.5h1M167 158.5h1M546 158.5h1M166 159.5h1M547 159.5h2M161 160.5h5M549 160.5h1M159 161.5h2M550 161.5h2M158 162.5h1M552 162.5h2M157 163.5h1M554 163.5h1M156 164.5h1M555 164.5h1M155 165.5h1M556 165.5h1M154 166.5h1M557 166.5h1M153 167.5h1M559 169.5h1M151 170.5h1M561 172.5h1M149 173.5h1M562 173.5h1M564 176.5h1M565 177.5h1M751 178.5h15M748 179.5h3M766 179.5h1M145 180.5h1M746 180.5h2M767 180.5h2M144 181.5h1M745 181.5h1M769 181.5h1M143 182.5h1M744 182.5h1M770 182.5h1M142 183.5h1M771 183.5h2M93 184.5h1M141 184.5h1M569 184.5h1M773 184.5h1M140 185.5h1M742 185.5h1M774 185.5h1M139 186.5h1M741 186.5h1M95 187.5h1M138 187.5h1M571 187.5h1M137 188.5h1M776 188.5h1M136 189.5h1M97 190.5h1M135 190.5h1M573 190.5h1M98 191.5h1M134 191.5h1M574 191.5h1M99 192.5h1M133 192.5h1M575 192.5h1M100 193.5h1M131 193.5h2M576 193.5h1M101 194.5h1M124 194.5h3M130 194.5h1M577 194.5h1M122 195.5h2M127 195.5h3M578 195.5h1M120 196.5h2M103 197.5h1M118 197.5h2M117 198.5h1M580 198.5h1M116 199.5h1M581 199.5h1M105 200.5h5M115 200.5h1M582 200.5h2M110 201.5h2M114 201.5h1M584 201.5h2M733 201.5h1M112 202.5h2M586 202.5h1M588 205.5h1M589 206.5h1M590 207.5h1M729 208.5h1M728 209.5h1M592 210.5h1M593 211.5h1M594 212.5h1M726 212.5h1M595 213.5h1M725 213.5h1M596 214.5h1M723 214.5h2M597 215.5h1M722 215.5h1M892 215.5h2M598 216.5h1M719 216.5h3M890 216.5h2M894 216.5h1M599 217.5h2M717 217.5h2M889 217.5h1M895 217.5h1M601 218.5h1M715 218.5h2M888 218.5h1M896 218.5h1M602 219.5h1M714 219.5h1M887 219.5h1M897 219.5h1M603 220.5h2M713 220.5h1M886 220.5h1M898 220.5h1M605 221.5h1M711 221.5h2M899 221.5h1M606 222.5h1M710 222.5h1M900 222.5h1M1049 222.5h6M607 223.5h2M708 223.5h2M901 223.5h1M1048 223.5h1M1055 223.5h4M609 224.5h1M706 224.5h2M1047 224.5h1M1059 224.5h11M610 225.5h2M705 225.5h1M1008 225.5h7M1046 225.5h1M1070 225.5h2M612 226.5h2M704 226.5h1M984 226.5h2M1006 226.5h2M1015 226.5h4M1045 226.5h1M1072 226.5h3M614 227.5h2M703 227.5h1M982 227.5h2M986 227.5h2M1005 227.5h1M1019 227.5h3M1044 227.5h1M1075 227.5h3M616 228.5h2M702 228.5h1M981 228.5h1M988 228.5h2M1003 228.5h2M1022 228.5h2M1078 228.5h2M618 229.5h2M700 229.5h2M881 229.5h1M980 229.5h1M990 229.5h1M1002 229.5h1M1024 229.5h2M1080 229.5h2M620 230.5h3M698 230.5h2M879 230.5h2M905 230.5h1M979 230.5h1M991 230.5h2M1000 230.5h2M1026 230.5h2M1042 230.5h1M1082 230.5h1M623 231.5h8M697 231.5h1M878 231.5h1M906 231.5h1M978 231.5h1M993 231.5h2M998 231.5h2M1028 231.5h3M1040 231.5h2M1083 231.5h2M631 232.5h7M695 232.5h2M877 232.5h1M977 232.5h1M995 232.5h3M1031 232.5h4M1038 232.5h2M1085 232.5h1M638 233.5h2M643 233.5h3M694 233.5h1M875 233.5h2M975 233.5h2M1035 233.5h3M1086 233.5h1M640 234.5h3M646 234.5h2M691 234.5h3M869 234.5h2M874 234.5h1M908 234.5h1M937 234.5h5M974 234.5h1M648 235.5h7M667 235.5h12M687 235.5h4M871 235.5h3M909 235.5h1M935 235.5h2M942 235.5h2M973 235.5h1M655 236.5h4M663 236.5h4M679 236.5h8M934 236.5h1M944 236.5h2M972 236.5h1M1088 236.5h1M659 237.5h4M931 237.5h3M946 237.5h1M971 237.5h1M1089 237.5h1M911 238.5h1M929 238.5h2M970 238.5h1M1090 238.5h1M927 239.5h2M969 239.5h1M1091 239.5h1M926 240.5h1M948 240.5h1M968 240.5h1M1092 240.5h1M913 241.5h1M925 241.5h1M949 241.5h1M967 241.5h1M1093 241.5h1M914 242.5h1M924 242.5h1M950 242.5h2M966 242.5h1M1094 242.5h1M923 243.5h1M952 243.5h2M964 243.5h2M1095 243.5h1M922 244.5h1M954 244.5h1M962 244.5h2M1096 244.5h1M916 245.5h1M919 245.5h3M955 245.5h2M959 245.5h3M1097 245.5h1M917 246.5h2M957 246.5h2M1098 246.5h1M1099 247.5h1M1100 248.5h1M1101 249.5h1M1103 252.5h1M1105 255.5h2M1107 256.5h3M1110 257.5h1M1111 258.5h2M1113 259.5h1M1133 304.5h1M1134 305.5h1M1135 306.5h2M1137 307.5h1M1138 308.5h1M1140 311.5h1M1141 312.5h1M1142 313.5h1M1144 316.5h1M1145 317.5h1M1146 318.5h1M1147 319.5h1M1148 320.5h1M1149 321.5h1M1150 322.5h1M1152 325.5h1M1153 326.5h1M1154 327.5h1M1155 328.5h2M1157 329.5h1M1158 330.5h1M1159 331.5h2M1161 332.5h1M1163 335.5h1M1165 338.5h1M823 341.5h1M1185 344.5h5M1169 345.5h1M1183 345.5h2M1190 345.5h1M1170 346.5h1M1182 346.5h1M1191 346.5h2M1171 347.5h2M1179 347.5h3M1193 347.5h1M1173 348.5h6M1194 348.5h2M836 349.5h1M1196 349.5h2M1198 350.5h2M1200 351.5h2M834 352.5h1M1202 352.5h2M830 353.5h4M1204 353.5h2M1206 354.5h2M1208 355.5h2M1210 356.5h1M1212 359.5h1M1213 360.5h1M1214 361.5h1M1215 362.5h1M1216 363.5h1M1217 364.5h1M1218 365.5h1M1219 366.5h2M1221 367.5h1M1222 368.5h2M1224 369.5h2M1226 370.5h1M1227 371.5h2M1229 372.5h1M1230 373.5h1M1231 374.5h2M1233 375.5h1M1234 376.5h1M1235 377.5h2M1237 378.5h1M1238 379.5h1M1239 380.5h2M1241 381.5h1M1242 382.5h1M1243 383.5h2M1245 384.5h2M1247 385.5h3M1250 386.5h1M1251 387.5h2M1253 388.5h1M1254 389.5h1M1255 390.5h2M1257 391.5h1M1258 392.5h2M1260 393.5h2M1262 394.5h1M1263 395.5h1M1264 396.5h1M1265 397.5h1M1266 398.5h1M1267 399.5h1M1268 400.5h1M1269 401.5h1" fill="none" stroke="#ff0000" stroke-width="1"/>
<path d="M21.5 157v2M22.5 154v3M23.5 152v2M24.5 149v3M25.5 146v3M26.5 143v3M27.5 140v3M28.5 137v3M29.5 134v3M30.5 130v4M31.5 127v3M32.5 123v4M33.5 121v2M34.5 119v2M35.5 117v2M36.5 115v2M38.5 112v2M40.5 109v2M49.5 108v2M50.5 110v4M51.5 114v3M52.5 117v4M53.5 121v3M54.5 124v2M55.5 126v3M56.5 129v2M57.5 131v4M58.5 135v5M59.5 140v5M60.5 145v5M61.5 150v4M62.5 154v4M63.5 158v3M64.5 161v4M65.5 165v5M66.5 170v6M67.5 176v6M68.5 182v6M69.5 188v4M70.5 192v2M71.5 194v2M72.5 196v2M73.5 198v2M74.5 200v3M75.5 203v4M76.5 207v3M77.5 210v2M81.5 211v2M82.5 213v2M83.5 215v2M84.5 217v2M85.5 219v2M94.5 216v2M96.5 213v2M97.5 211v2M98.5 209v2M99.5 207v2M100.5 205v2M101.5 202v3M102.5 200v2M103.5 198v2M104.5 196v2M105.5 194v2M106.5 192v2M107.5 190v2M108.5 188v2M110.5 185v2M112.5 182v2M114.5 179v2M116.5 176v2M126.5 176v2M127.5 178v2M128.5 180v2M141.5 186v2M142.5 183v3M143.5 180v3M144.5 177v3M145.5 173v4M146.5 169v4M147.5 165v4M148.5 161v4M149.5 157v4M150.5 153v4M151.5 150v3M152.5 146v4M153.5 143v3M154.5 141v2M155.5 138v3M156.5 136v2M157.5 134v2M158.5 132v2M159.5 130v2M160.5 128v2M171.5 136v2M181.5 137v2M182.5 135v2M183.5 132v3M184.5 130v2M185.5 128v2M186.5 126v2M187.5 124v2M188.5 122v2M189.5 120v2M210.5 113v2M211.5 111v2M212.5 109v2M230.5 110v2M231.5 112v2M232.5 114v2M233.5 116v2M249.5 115v2M250.5 112v3M251.5 109v3M252.5 106v3M253.5 104v2M259.5 98v2M262.5 94v2M264.5 91v2M266.5 88v2M268.5 85v2M309.5 81v2M310.5 83v2M311.5 85v3M312.5 88v2M313.5 90v3M314.5 93v4M315.5 97v3M316.5 100v4M317.5 104v3M318.5 107v3M319.5 110v4M320.5 114v3M321.5 117v3M322.5 120v3M323.5 123v4M324.5 127v3M325.5 130v2M326.5 132v2M327.5 134v2M328.5 136v2M334.5 132v2M335.5 130v2M336.5 128v2M337.5 125v3M338.5 123v2M339.5 120v3M340.5 118v2M341.5 115v3M342.5 113v2M343.5 111v2M344.5 109v2M345.5 107v2M346.5 105v2M347.5 103v2M348.5 101v2M349.5 99v2M357.5 97v2M358.5 99v2M359.5 101v2M360.5 103v2M361.5 105v3M362.5 108v2M363.5 110v3M364.5 113v2M365.5 115v3M366.5 118v3M367.5 121v2M368.5 123v3M369.5 126v3M370.5 129v2M371.5 131v2M372.5 133v2M373.5 135v2M378.5 133v2M379.5 131v2M380.5 129v2M381.5 127v2M382.5 125v2M383.5 122v3M384.5 120v2M385.5 117v3M386.5 114v3M387.5 111v3M388.5 108v3M389.5 105v3M390.5 102v3M391.5 98v4M392.5 95v3M393.5 93v2M402.5 90v2M404.5 93v2M405.5 95v2M406.5 97v2M407.5 99v2M408.5 101v2M409.5 103v3M410.5 106v2M411.5 108v2M412.5 110v2M413.5 112v2M415.5 115v2M418.5 119v2M419.5 121v2M420.5 123v2M421.5 125v2M434.5 116v2M436.5 113v2M437.5 111v2M438.5 108v3M439.5 105v3M440.5 102v3M441.5 100v2M442.5 98v2M443.5 96v2M444.5 94v2M445.5 92v2M446.5 90v2M447.5 88v2M448.5 86v2M450.5 83v2M451.5 81v2M452.5 79v2M453.5 77v2M466.5 70v2M468.5 73v2M469.5 75v2M470.5 77v4M471.5 81v3M472.5 84v4M473.5 88v3M474.5 91v3M475.5 94v2M476.5 96v3M477.5 99v3M478.5 102v3M479.5 105v4M480.5 109v3M481.5 112v3M482.5 115v2M483.5 117v3M484.5 120v2M485.5 122v2M506.5 134v2M507.5 136v2M508.5 138v2M509.5 140v2M518.5 149v2M519.5 151v2M520.5 153v2M522.5 156v2M524.5 159v2M527.5 163v2M554.5 169v2M555.5 171v2M556.5 173v2M557.5 175v3M558.5 178v2M559.5 180v3M560.5 183v2M561.5 185v3M562.5 188v3M563.5 191v3M564.5 194v3M565.5 197v3M566.5 200v3M567.5 203v4M568.5 207v3M569.5 210v3M570.5 213v4M571.5 217v4M572.5 221v4M573.5 225v2M574.5 227v2M575.5 229v2M576.5 231v2M577.5 233v2M591.5 230v2M607.5 220v2M617.5 221v2M618.5 223v2M619.5 225v2M620.5 227v2M621.5 229v3M622.5 232v2M623.5 234v3M624.5 237v2M625.5 239v2M627.5 242v2M642.5 243v2M643.5 241v2M644.5 239v2M666.5 225v2M667.5 223v2M668.5 221v2M669.5 219v2M674.5 223v2M675.5 225v2M676.5 227v2M678.5 230v2M679.5 232v2M680.5 234v2M681.5 236v2M682.5 238v2M683.5 240v2M684.5 242v2M685.5 244v2M686.5 246v2M688.5 249v2M691.5 248v2M693.5 245v2M694.5 242v3M695.5 239v3M696.5 236v3M697.5 233v3M698.5 229v4M699.5 225v4M700.5 221v4M701.5 218v3M702.5 215v3M703.5 212v3M704.5 209v3M705.5 207v2M706.5 205v2M707.5 203v2M708.5 201v2M709.5 199v2M711.5 196v2M723.5 187v2M727.5 182v2M731.5 177v2M734.5 173v2M736.5 170v2M738.5 167v2M740.5 164v2M751.5 168v2M758.5 176v2M759.5 178v2M760.5 180v2M761.5 182v2M762.5 184v2M764.5 187v2M765.5 189v2M766.5 191v2M767.5 193v2M768.5 195v2M769.5 197v3M770.5 200v2M771.5 202v3M772.5 205v2M773.5 207v3M774.5 210v4M775.5 214v3M776.5 217v4M777.5 221v4M778.5 225v5M779.5 230v4M780.5 234v5M781.5 239v5M782.5 244v6M783.5 250v6M784.5 256v6M785.5 262v6M786.5 268v4M787.5 272v4M788.5 276v4M789.5 280v5M790.5 285v5M791.5 290v4M792.5 294v5M793.5 299v6M794.5 305v8M795.5 313v8M796.5 321v8M797.5 329v7M798.5 336v6M799.5 342v7M800.5 349v6M801.5 355v7M802.5 362v7M803.5 369v7M804.5 376v7M805.5 383v7M806.5 390v6M807.5 396v6M808.5 402v6M809.5 408v5M810.5 413v3M811.5 416v4M812.5 420v3M813.5 422v3M814.5 418v4M815.5 413v5M816.5 409v4M817.5 404v5M818.5 399v5M819.5 395v4M820.5 390v5M821.5 384v6M822.5 377v7M823.5 369v8M824.5 362v7M825.5 357v5M826.5 353v4M827.5 349v4M828.5 345v4M829.5 340v5M830.5 332v8M831.5 325v7M832.5 317v8M833.5 311v6M834.5 306v5M835.5 301v5M836.5 296v5M837.5 289v7M838.5 281v8M839.5 272v9M840.5 264v8M841.5 255v9M842.5 246v9M843.5 238v8M844.5 229v9M845.5 219v10M846.5 207v12M847.5 195v12M848.5 183v12M849.5 175v8M850.5 170v5M851.5 165v5M852.5 160v5M853.5 156v4M854.5 154v2M855.5 152v2M856.5 150v2M857.5 148v2M858.5 149v2M859.5 151v2M860.5 153v2M861.5 155v4M862.5 159v6M863.5 165v6M864.5 171v6M865.5 177v8M866.5 185v9M867.5 194v10M868.5 204v9M869.5 213v8M870.5 221v8M871.5 229v8M872.5 237v8M873.5 245v7M874.5 252v6M875.5 258v6M876.5 264v6M877.5 270v5M878.5 275v4M879.5 279v4M880.5 283v4M881.5 287v3M885.5 284v3M886.5 279v5M887.5 275v4M888.5 270v5M889.5 264v6M890.5 257v7M891.5 250v7M892.5 243v7M893.5 238v5M894.5 234v4M895.5 230v4M896.5 226v4M897.5 222v4M898.5 218v4M899.5 214v4M900.5 210v4M901.5 207v3M909.5 205v2M910.5 207v3M911.5 210v4M912.5 214v3M913.5 217v3M914.5 220v3M915.5 223v4M916.5 227v3M917.5 230v3M918.5 233v3M919.5 236v3M920.5 239v3M921.5 242v2M923.5 245v2M925.5 248v2M926.5 250v3M927.5 253v3M928.5 256v3M929.5 259v2M935.5 258v2M946.5 251v2M947.5 249v2M948.5 247v2M958.5 238v2M959.5 236v2M960.5 234v2M961.5 232v2M962.5 230v2M963.5 228v2M964.5 226v2M965.5 223v3M966.5 221v2M967.5 219v2M968.5 217v2M969.5 215v2M970.5 213v2M971.5 211v2M972.5 209v2M981.5 203v2M982.5 205v2M983.5 207v2M984.5 209v2M985.5 211v3M986.5 214v4M987.5 218v4M988.5 222v4M989.5 226v4M990.5 230v4M991.5 234v4M992.5 238v4M993.5 242v4M994.5 246v2M995.5 248v3M996.5 251v2M997.5 253v2M1002.5 255v2M1003.5 253v2M1004.5 251v2M1005.5 247v4M1006.5 243v4M1007.5 239v4M1008.5 235v4M1009.5 231v4M1010.5 229v2M1011.5 227v2M1012.5 225v2M1013.5 223v2M1014.5 221v2M1016.5 218v2M1023.5 219v2M1027.5 224v2M1050.5 219v2M1051.5 221v2M1052.5 223v2M1053.5 225v2M1077.5 228v2M1078.5 230v2M1079.5 232v2M1080.5 234v2M1081.5 236v3M1082.5 239v3M1083.5 242v3M1084.5 245v3M1085.5 248v3M1086.5 251v2M1087.5 253v3M1088.5 256v2M1089.5 258v2M1091.5 261v2M1094.5 265v2M1095.5 267v2M1096.5 269v2M1097.5 271v2M1102.5 276v2M1104.5 279v2M1114.5 281v2M1115.5 283v2M1116.5 285v2M1117.5 287v2M1118.5 289v4M1119.5 293v3M1120.5 296v4M1121.5 300v3M1122.5 303v3M1123.5 306v4M1124.5 310v3M1125.5 313v5M1126.5 318v7M1127.5 325v6M1128.5 331v7M1129.5 338v5M1130.5 343v3M1131.5 346v2M1132.5 348v3M1133.5 351v2M1143.5 350v2M1145.5 347v2M1146.5 343v4M1147.5 339v4M1148.5 335v4M1149.5 333v2M1166.5 339v2M1167.5 341v2M1168.5 343v2M1169.5 345v2M1186.5 355v2M1187.5 353v2M1188.5 351v2M1206.5 361v2M1208.5 364v2M1210.5 367v2M1212.5 370v2M1215.5 374v2M1218.5 378v2M1219.5 380v2M1220.5 382v2M1221.5 384v2M1222.5 386v2M1224.5 389v2M1226.5 392v2M1228.5 395v2M1243.5 393v2M1261.5 393v2M1262.5 395v3M1263.5 398v3M1264.5 401v3M1265.5 404v3M1266.5 407v3M1267.5 410v2M1268.5 412v3M1269.5 415v2M465 69.5h1M463 70.5h2M462 71.5h1M460 72.5h2M467 72.5h1M458 73.5h2M457 74.5h1M455 75.5h2M454 76.5h1M305 81.5h4M303 82.5h2M302 83.5h1M269 84.5h1M301 84.5h1M270 85.5h1M300 85.5h1M449 85.5h1M271 86.5h1M276 86.5h2M299 86.5h1M267 87.5h1M272 87.5h1M274 87.5h2M278 87.5h1M298 87.5h1M273 88.5h1M279 88.5h1M296 88.5h2M280 89.5h1M294 89.5h2M400 89.5h2M265 90.5h1M281 90.5h1M293 90.5h1M398 90.5h2M282 91.5h2M291 91.5h2M396 91.5h2M284 92.5h3M290 92.5h1M394 92.5h2M403 92.5h1M263 93.5h1M287 93.5h3M353 95.5h1M261 96.5h1M352 96.5h1M354 96.5h2M260 97.5h1M351 97.5h1M356 97.5h1M350 98.5h1M258 100.5h1M257 101.5h1M255 102.5h2M254 103.5h1M217 105.5h9M215 106.5h2M226 106.5h1M214 107.5h1M227 107.5h1M41 108.5h8M213 108.5h1M228 108.5h1M229 109.5h1M39 111.5h1M37 114.5h1M204 114.5h3M414 114.5h1M196 115.5h3M202 115.5h2M207 115.5h3M435 115.5h1M194 116.5h2M199 116.5h3M247 116.5h2M193 117.5h1M240 117.5h7M416 117.5h1M191 118.5h2M234 118.5h2M238 118.5h2M417 118.5h1M433 118.5h1M190 119.5h1M236 119.5h2M431 119.5h2M430 120.5h1M429 121.5h1M428 122.5h1M427 123.5h1M426 124.5h1M486 124.5h1M492 124.5h2M423 125.5h3M487 125.5h2M490 125.5h2M494 125.5h1M422 126.5h1M489 126.5h1M495 126.5h2M161 127.5h1M497 127.5h1M162 128.5h1M498 128.5h2M163 129.5h1M500 129.5h2M164 130.5h1M502 130.5h1M165 131.5h1M503 131.5h1M166 132.5h1M504 132.5h1M167 133.5h2M505 133.5h1M169 134.5h1M333 134.5h1M170 135.5h1M332 135.5h1M375 135.5h3M331 136.5h1M374 136.5h1M330 137.5h1M172 138.5h1M329 138.5h1M173 139.5h1M180 139.5h1M174 140.5h1M179 140.5h1M175 141.5h2M178 141.5h1M177 142.5h1M510 142.5h1M511 143.5h1M512 144.5h1M513 145.5h1M5 146.5h1M514 146.5h1M6 147.5h2M515 147.5h2M8 148.5h2M517 148.5h1M10 149.5h1M11 150.5h2M13 151.5h1M14 152.5h1M15 153.5h1M16 154.5h1M17 155.5h1M521 155.5h1M18 156.5h1M19 157.5h2M523 158.5h1M525 161.5h1M526 162.5h1M743 162.5h3M741 163.5h2M746 163.5h1M747 164.5h1M528 165.5h1M748 165.5h1M529 166.5h1M739 166.5h1M749 166.5h1M530 167.5h1M548 167.5h3M750 167.5h1M531 168.5h2M541 168.5h2M546 168.5h2M551 168.5h3M533 169.5h1M539 169.5h2M543 169.5h3M737 169.5h1M534 170.5h2M538 170.5h1M752 170.5h1M121 171.5h1M536 171.5h2M753 171.5h1M120 172.5h1M122 172.5h1M735 172.5h1M754 172.5h1M119 173.5h1M123 173.5h1M755 173.5h1M118 174.5h1M124 174.5h1M756 174.5h1M117 175.5h1M125 175.5h1M733 175.5h1M757 175.5h1M732 176.5h1M115 178.5h1M730 179.5h1M729 180.5h1M113 181.5h1M728 181.5h1M129 182.5h2M131 183.5h7M111 184.5h1M138 184.5h1M726 184.5h1M139 185.5h1M725 185.5h1M140 186.5h1M724 186.5h1M763 186.5h1M109 187.5h1M722 189.5h1M720 190.5h2M718 191.5h2M716 192.5h2M714 193.5h2M713 194.5h1M712 195.5h1M710 198.5h1M980 203.5h1M905 204.5h2M978 204.5h2M903 205.5h2M907 205.5h2M977 205.5h1M902 206.5h1M975 206.5h2M974 207.5h1M973 208.5h1M78 211.5h3M95 215.5h1M89 216.5h1M88 217.5h1M90 217.5h2M1017 217.5h5M87 218.5h1M92 218.5h2M609 218.5h2M1022 218.5h1M1048 218.5h2M86 219.5h1M608 219.5h1M611 219.5h3M1046 219.5h2M614 220.5h2M670 220.5h1M1015 220.5h1M1044 220.5h2M616 221.5h1M671 221.5h2M1024 221.5h1M1042 221.5h2M606 222.5h1M673 222.5h1M1025 222.5h1M1035 222.5h7M603 223.5h3M1026 223.5h1M1033 223.5h2M600 224.5h3M1032 224.5h1M598 225.5h2M1031 225.5h1M596 226.5h2M1028 226.5h1M1030 226.5h1M594 227.5h2M665 227.5h1M1029 227.5h1M1054 227.5h1M1063 227.5h3M1072 227.5h3M593 228.5h1M664 228.5h1M1055 228.5h2M1059 228.5h4M1066 228.5h2M1070 228.5h2M1075 228.5h2M592 229.5h1M663 229.5h1M677 229.5h1M1057 229.5h2M1068 229.5h2M662 230.5h1M660 231.5h2M590 232.5h1M658 232.5h2M585 233.5h5M655 233.5h3M583 234.5h2M653 234.5h2M578 235.5h2M582 235.5h1M652 235.5h1M580 236.5h2M651 236.5h1M650 237.5h1M645 238.5h5M956 240.5h2M626 241.5h1M954 241.5h2M953 242.5h1M952 243.5h1M628 244.5h1M922 244.5h1M951 244.5h1M629 245.5h1M641 245.5h1M950 245.5h1M630 246.5h1M639 246.5h2M949 246.5h1M631 247.5h1M638 247.5h1M692 247.5h1M924 247.5h1M632 248.5h1M635 248.5h3M687 248.5h1M633 249.5h2M690 250.5h1M689 251.5h1M944 253.5h2M942 254.5h2M939 255.5h3M998 255.5h1M937 256.5h2M999 256.5h2M936 257.5h1M1001 257.5h1M930 260.5h1M934 260.5h1M1090 260.5h1M931 261.5h3M1092 263.5h1M1093 264.5h1M1098 273.5h1M1099 274.5h2M1101 275.5h1M1103 278.5h1M1107 280.5h7M1105 281.5h2M883 287.5h2M882 288.5h1M1150 333.5h1M1151 334.5h3M1154 335.5h1M1155 336.5h2M1159 336.5h3M1157 337.5h2M1162 337.5h2M1164 338.5h2M1170 347.5h1M1171 348.5h1M1144 349.5h1M1172 349.5h1M1173 350.5h1M1189 350.5h2M1174 351.5h1M1191 351.5h3M1142 352.5h1M1175 352.5h1M1194 352.5h1M1134 353.5h2M1139 353.5h3M1176 353.5h1M1195 353.5h1M1136 354.5h3M1177 354.5h1M1196 354.5h1M1178 355.5h1M1197 355.5h1M1179 356.5h2M1198 356.5h2M1181 357.5h5M1200 357.5h2M1202 358.5h1M1203 359.5h2M1205 360.5h1M1207 363.5h1M1209 366.5h1M1211 369.5h1M1213 372.5h1M1214 373.5h1M1216 376.5h1M1217 377.5h1M1223 388.5h1M1249 388.5h1M1247 389.5h2M1250 389.5h1M1246 390.5h1M1251 390.5h2M1225 391.5h1M1245 391.5h1M1253 391.5h1M1244 392.5h1M1254 392.5h1M1255 393.5h2M1259 393.5h2M1227 394.5h1M1257 394.5h2M1242 395.5h1M1235 396.5h7M1229 397.5h6" fill="none" stroke="#ffa500" stroke-width="1"/>
</g>
<rect x="5" y="173" width="1592" height="2" fill="#ff0000"/>
<rect x="5" y="240" width="1592" height="2" fill="#ff0000"/>
<rect x="5" y="298" width="1592" height="2" fill="#00ff00"/>
<rect x="5" y="373" width="1592" height="2" fill="#0000ff"/>
<rect x="5" y="451" width="1592" height="2" fill="#0000ff"/>
<rect x="4" y="24" width="1" height="695" fill="#000000"/>
<rect x="4" y="24" width="1594" height="1" fill="#000000"/>
<rect x="1597" y="24" width="1" height="695" fill="#000000"/>
<rect x="4" y="530" width="1594" height="1" fill="#000000"/>
<rect x="4" y="531" width="1635" height="1" fill="#ffffff"/>
<rect x="4" y="532" width="1594" height="1" fill="#000000"/>
<rect x="4" y="624" width="1594" height="1" fill="#000000"/>
<rect x="4" y="626" width="1594" height="1" fill="#000000"/>
<rect x="4" y="718" width="1594" height="1" fill="#000000"/>
<rect x="4" y="171" width="6" height="6" fill="#ff0000"/>
<rect x="6" y="173" width="2" height="2" fill="#fff"/>
<rect x="1591" y="171" width="6" height="6" fill="#ff0000"/>
<rect x="1593" y="173" width="2" height="2" fill="#fff"/>
<rect x="4" y="296" width="6" height="6" fill="#00ff00"/>
<rect x="6" y="298" width="2" height="2" fill="#fff"/>
<rect x="1591" y="296" width="6" height="6" fill="#00ff00"/>
<rect x="1593" y="298" width="2" height="2" fill="#fff"/>
<rect x="4" y="371" width="6" height="6" fill="#0000ff"/>
<rect x="6" y="373" width="2" height="2" fill="#fff"/>
<rect x="1591" y="371" width="6" height="6" fill="#0000ff"/>
<rect x="1593" y="373" width="2" height="2" fill="#fff"/>
<rect x="4" y="449" width="6" height="6" fill="#0000ff"/>
<rect x="6" y="451" width="2" height="2" fill="#fff"/>
<rect x="1591" y="449" width="6" height="6" fill="#0000ff"/>
<rect x="1593" y="451" width="2" height="2" fill="#fff"/>
<rect x="1598" y="32" width="2" height="1" fill="#000000"/>
<text x="1603" y="36" font-size="9.6" fill="#000" stroke="#000" stroke-width="0.12" textLength="33" lengthAdjust="spacingAndGlyphs">1.00570</text>
<rect x="1598" y="65" width="2" height="1" fill="#000000"/>
<text x="1603" y="69" font-size="9.6" fill="#000" stroke="#000" stroke-width="0.12" textLength="33" lengthAdjust="spacingAndGlyphs">0.99970</text>
<rect x="1598" y="98" width="2" height="1" fill="#000000"/>
<text x="1603" y="102" font-size="9.6" fill="#000" stroke="#000" stroke-width="0.12" textLength="33" lengthAdjust="spacingAndGlyphs">0.99385</text>
<rect x="1598" y="131" width="2" height="1" fill="#000000"/>
<text x="1603" y="135" font-size="9.6" fill="#000" stroke="#000" stroke-width="0.12" textLength="33" lengthAdjust="spacingAndGlyphs">0.98785</text>
<rect x="1598" y="164" width="2" height="1" fill="#000000"/>
<text x="1603" y="168" font-size="9.6" fill="#000" stroke="#000" stroke-width="0.12" textLength="33" lengthAdjust="spacingAndGlyphs">0.98185</text>
<rect x="1598" y="197" width="2" height="1" fill="#000000"/>
<text x="1603" y="201" font-size="9.6" fill="#000" stroke="#000" stroke-width="0.12" textLength="33" lengthAdjust="spacingAndGlyphs">0.97600</text>
<rect x="1598" y="230" width="2" height="1" fill="#000000"/>
<text x="1603" y="234" font-size="9.6" fill="#000" stroke="#000" stroke-width="0.12" textLength="33" lengthAdjust="spacingAndGlyphs">0.97000</text>
<rect x="1598" y="263" width="2" height="1" fill="#000000"/>
<text x="1603" y="267" font-size="9.6" fill="#000" stroke="#000" stroke-width="0.12" textLength="33" lengthAdjust="spacingAndGlyphs">0.96400</text>
<rect x="1598" y="329" width="2" height="1" fill="#000000"/>
<text x="1603" y="333" font-size="9.6" fill="#000" stroke="#000" stroke-width="0.12" textLength="33" lengthAdjust="spacingAndGlyphs">0.95215</text>
<rect x="1598" y="362" width="2" height="1" fill="#000000"/>
<text x="1603" y="366" font-size="9.6" fill="#000" stroke="#000" stroke-width="0.12" textLength="33" lengthAdjust="spacingAndGlyphs">0.94615</text>
<rect x="1598" y="395" width="2" height="1" fill="#000000"/>
<text x="1603" y="399" font-size="9.6" fill="#000" stroke="#000" stroke-width="0.12" textLength="33" lengthAdjust="spacingAndGlyphs">0.94030</text>
<rect x="1598" y="428" width="2" height="1" fill="#000000"/>
<text x="1603" y="432" font-size="9.6" fill="#000" stroke="#000" stroke-width="0.12" textLength="33" lengthAdjust="spacingAndGlyphs">0.93430</text>
<rect x="1598" y="461" width="2" height="1" fill="#000000"/>
<text x="1603" y="465" font-size="9.6" fill="#000" stroke="#000" stroke-width="0.12" textLength="33" lengthAdjust="spacingAndGlyphs">0.92830</text>
<rect x="1598" y="494" width="2" height="1" fill="#000000"/>
<text x="1603" y="498" font-size="9.6" fill="#000" stroke="#000" stroke-width="0.12" textLength="33" lengthAdjust="spacingAndGlyphs">0.92245</text>
<rect x="1598" y="527" width="2" height="1" fill="#000000"/>
<text x="1603" y="531" font-size="9.6" fill="#000" stroke="#000" stroke-width="0.12" textLength="33" lengthAdjust="spacingAndGlyphs">0.91645</text>
<rect x="1599" y="168" width="40" height="11" fill="#ff0000"/>
<text x="1603" y="177" font-size="9.6" fill="#fff" stroke="#fff" stroke-width="0.12" textLength="33" lengthAdjust="spacingAndGlyphs">0.98008</text>
<rect x="1599" y="235" width="40" height="11" fill="#ff0000"/>
<text x="1603" y="244" font-size="9.6" fill="#fff" stroke="#fff" stroke-width="0.12" textLength="33" lengthAdjust="spacingAndGlyphs">0.96803</text>
<rect x="1599" y="293" width="40" height="11" fill="#00ff00"/>
<text x="1603" y="302" font-size="9.6" fill="#fff" stroke="#fff" stroke-width="0.12" textLength="33" lengthAdjust="spacingAndGlyphs">0.95758</text>
<rect x="1599" y="368" width="40" height="11" fill="#0000ff"/>
<text x="1603" y="377" font-size="9.6" fill="#fff" stroke="#fff" stroke-width="0.12" textLength="33" lengthAdjust="spacingAndGlyphs">0.94408</text>
<rect x="1599" y="446" width="40" height="11" fill="#0000ff"/>
<text x="1603" y="455" font-size="9.6" fill="#fff" stroke="#fff" stroke-width="0.12" textLength="33" lengthAdjust="spacingAndGlyphs">0.93004</text>
<rect x="1599" y="433" width="40" height="11" fill="#000"/>
<text x="1603" y="442" font-size="9.6" fill="#fff" stroke="#fff" stroke-width="0.12" textLength="33" lengthAdjust="spacingAndGlyphs">0.93252</text>
<line x1="5" y1="560.5" x2="1597" y2="560.5" stroke="#c0c0c0" stroke-width="1" stroke-dasharray="3,3" shape-rendering="crispEdges"/>
<line x1="5" y1="596.5" x2="1597" y2="596.5" stroke="#c0c0c0" stroke-width="1" stroke-dasharray="3,3" shape-rendering="crispEdges"/>
<g shape-rendering="crispEdges">
<path d="M15.5 583v2M22.5 578v2M24.5 575v2M47.5 573v2M49.5 571v2M50.5 573v4M51.5 577v3M52.5 580v4M53.5 584v2M58.5 586v2M59.5 588v2M60.5 590v2M61.5 592v2M62.5 591v2M63.5 589v2M64.5 587v2M67.5 588v2M71.5 588v2M87.5 586v2M122.5 576v2M123.5 578v2M124.5 580v2M125.5 582v2M131.5 581v2M159.5 570v2M162.5 574v2M164.5 577v2M167.5 576v2M190.5 569v2M192.5 572v2M235.5 576v2M249.5 575v2M250.5 573v2M251.5 571v2M252.5 569v2M253.5 567v2M254.5 568v2M256.5 571v2M307.5 571v2M309.5 574v2M310.5 576v4M311.5 580v3M312.5 583v4M313.5 587v2M327.5 584v2M354.5 576v2M356.5 579v2M358.5 582v2M360.5 585v2M373.5 585v2M374.5 583v2M375.5 580v3M376.5 578v2M377.5 576v2M394.5 569v2M396.5 572v2M402.5 576v2M403.5 578v2M404.5 580v2M405.5 582v2M427.5 578v2M434.5 575v2M436.5 572v2M465.5 566v2M466.5 568v4M467.5 572v4M468.5 576v4M469.5 580v3M470.5 583v2M471.5 585v2M472.5 587v2M473.5 589v2M475.5 587v2M483.5 583v2M507.5 588v2M519.5 591v2M530.5 591v2M532.5 588v2M554.5 587v2M556.5 590v2M590.5 591v2M592.5 588v2M599.5 586v2M626.5 593v2M627.5 591v2M628.5 589v2M629.5 587v2M662.5 579v2M664.5 576v2M669.5 573v2M670.5 575v2M671.5 577v3M672.5 580v2M673.5 582v2M675.5 585v2M683.5 586v2M687.5 581v2M745.5 565v2M746.5 567v2M747.5 569v3M748.5 572v2M749.5 574v2M765.5 577v2M766.5 579v3M767.5 582v3M768.5 585v3M769.5 588v2M779.5 597v2M795.5 608v2M806.5 611v2M808.5 608v2M810.5 605v2M811.5 603v2M812.5 601v2M813.5 597v4M814.5 593v4M815.5 589v4M816.5 585v4M817.5 582v3M826.5 581v2M827.5 583v2M828.5 585v2M829.5 586v2M830.5 582v4M831.5 579v3M832.5 575v4M833.5 573v2M839.5 566v2M851.5 564v2M861.5 571v2M862.5 573v2M863.5 575v2M864.5 577v2M865.5 579v2M875.5 583v2M927.5 581v2M981.5 572v2M982.5 574v2M983.5 576v2M984.5 578v2M985.5 580v2M986.5 582v2M987.5 584v2M988.5 586v2M998.5 580v2M999.5 578v2M1000.5 576v2M1001.5 574v2M1010.5 573v2M1012.5 576v2M1049.5 575v2M1050.5 577v2M1051.5 579v3M1052.5 582v2M1053.5 584v2M1054.5 583v2M1055.5 581v2M1056.5 579v2M1071.5 580v2M1078.5 580v2M1080.5 583v2M1103.5 589v2M1105.5 591v2M1106.5 589v2M1107.5 587v2M1108.5 585v2M1109.5 583v2M1115.5 586v2M1118.5 590v2M1120.5 593v2M1129.5 600v2M1130.5 596v4M1131.5 592v4M1132.5 588v4M1133.5 585v3M1241.5 590v2M1242.5 588v2M1243.5 585v3M1244.5 583v2M1245.5 581v2M1251.5 584v2M1262.5 587v2M1264.5 590v2M741 562.5h1M847 562.5h3M739 563.5h2M742 563.5h1M843 563.5h4M850 563.5h1M725 564.5h10M738 564.5h1M743 564.5h2M841 564.5h2M724 565.5h1M735 565.5h3M840 565.5h1M459 566.5h6M723 566.5h1M852 566.5h1M213 567.5h1M448 567.5h11M722 567.5h1M853 567.5h2M151 568.5h7M188 568.5h2M211 568.5h2M214 568.5h1M391 568.5h3M441 568.5h2M446 568.5h2M721 568.5h1M838 568.5h1M855 568.5h3M149 569.5h2M158 569.5h1M186 569.5h2M210 569.5h1M215 569.5h1M261 569.5h5M304 569.5h2M389 569.5h2M439 569.5h2M443 569.5h3M704 569.5h3M719 569.5h2M837 569.5h1M858 569.5h1M31 570.5h3M148 570.5h1M181 570.5h5M207 570.5h3M216 570.5h1M255 570.5h1M260 570.5h1M266 570.5h1M295 570.5h4M302 570.5h2M306 570.5h1M387 570.5h2M438 570.5h1M702 570.5h2M707 570.5h8M718 570.5h1M836 570.5h1M859 570.5h2M971 570.5h3M29 571.5h2M34 571.5h1M147 571.5h1M179 571.5h2M191 571.5h1M203 571.5h4M217 571.5h1M259 571.5h1M267 571.5h2M292 571.5h3M299 571.5h3M348 571.5h2M386 571.5h1M395 571.5h1M437 571.5h1M699 571.5h3M715 571.5h3M835 571.5h1M893 571.5h2M964 571.5h7M974 571.5h1M27 572.5h2M35 572.5h1M48 572.5h1M146 572.5h1M160 572.5h1M178 572.5h1M199 572.5h4M218 572.5h1M240 572.5h2M258 572.5h1M269 572.5h1M290 572.5h2M346 572.5h2M350 572.5h1M385 572.5h1M697 572.5h2M834 572.5h1M891 572.5h2M895 572.5h7M962 572.5h2M975 572.5h2M979 572.5h2M1007 572.5h3M26 573.5h1M36 573.5h1M145 573.5h1M161 573.5h1M176 573.5h2M195 573.5h4M219 573.5h2M223 573.5h3M238 573.5h2M242 573.5h2M257 573.5h1M270 573.5h2M275 573.5h3M284 573.5h6M308 573.5h1M341 573.5h5M351 573.5h1M384 573.5h1M668 573.5h1M695 573.5h2M890 573.5h1M902 573.5h1M959 573.5h3M977 573.5h2M1003 573.5h4M25 574.5h1M37 574.5h2M144 574.5h1M169 574.5h2M174 574.5h2M193 574.5h2M221 574.5h2M226 574.5h1M237 574.5h1M244 574.5h2M272 574.5h3M278 574.5h2M282 574.5h2M340 574.5h1M352 574.5h1M383 574.5h1M397 574.5h2M435 574.5h1M666 574.5h2M694 574.5h1M889 574.5h1M903 574.5h1M956 574.5h3M1002 574.5h1M39 575.5h4M46 575.5h1M120 575.5h2M143 575.5h1M168 575.5h1M171 575.5h3M227 575.5h1M236 575.5h1M246 575.5h2M280 575.5h2M339 575.5h1M353 575.5h1M382 575.5h1M399 575.5h3M665 575.5h1M693 575.5h1M750 575.5h1M887 575.5h2M904 575.5h1M954 575.5h2M1011 575.5h1M1020 575.5h2M1032 575.5h7M1047 575.5h2M1063 575.5h3M43 576.5h3M118 576.5h2M137 576.5h2M142 576.5h1M163 576.5h1M228 576.5h1M248 576.5h1M338 576.5h1M378 576.5h4M429 576.5h2M692 576.5h1M751 576.5h7M886 576.5h1M905 576.5h5M937 576.5h1M952 576.5h2M1018 576.5h2M1022 576.5h1M1030 576.5h2M1039 576.5h8M1060 576.5h3M1066 576.5h1M23 577.5h1M109 577.5h1M116 577.5h2M135 577.5h2M139 577.5h3M229 577.5h1M336 577.5h2M428 577.5h1M431 577.5h3M691 577.5h1M758 577.5h2M763 577.5h2M884 577.5h2M910 577.5h1M936 577.5h1M938 577.5h1M944 577.5h3M950 577.5h2M1015 577.5h3M1023 577.5h2M1027 577.5h3M1058 577.5h2M1067 577.5h2M101 578.5h1M107 578.5h2M110 578.5h2M114 578.5h2M134 578.5h1M166 578.5h1M230 578.5h2M234 578.5h1M334 578.5h2M355 578.5h1M663 578.5h1M690 578.5h1M760 578.5h3M882 578.5h2M911 578.5h1M935 578.5h1M939 578.5h2M942 578.5h2M947 578.5h3M1013 578.5h2M1025 578.5h2M1057 578.5h1M1069 578.5h1M100 579.5h1M102 579.5h2M106 579.5h1M112 579.5h2M133 579.5h1M165 579.5h1M232 579.5h2M333 579.5h1M689 579.5h1M880 579.5h2M912 579.5h1M923 579.5h3M934 579.5h1M941 579.5h1M1070 579.5h1M1077 579.5h1M19 580.5h3M99 580.5h1M104 580.5h2M132 580.5h1M331 580.5h2M426 580.5h1M653 580.5h6M688 580.5h1M824 580.5h2M878 580.5h2M913 580.5h10M926 580.5h1M933 580.5h1M1076 580.5h1M17 581.5h2M98 581.5h1M330 581.5h1M357 581.5h1M415 581.5h3M425 581.5h1M485 581.5h2M652 581.5h1M659 581.5h3M822 581.5h2M866 581.5h1M877 581.5h1M932 581.5h1M1075 581.5h1M1189 581.5h1M1246 581.5h1M16 582.5h1M97 582.5h1M329 582.5h1M412 582.5h3M418 582.5h1M424 582.5h1M484 582.5h1M487 582.5h3M645 582.5h1M651 582.5h1M818 582.5h4M867 582.5h1M876 582.5h1M931 582.5h1M997 582.5h1M1072 582.5h1M1074 582.5h1M1079 582.5h1M1188 582.5h1M1190 582.5h1M1247 582.5h3M95 583.5h2M126 583.5h1M130 583.5h1M328 583.5h1M406 583.5h1M410 583.5h2M419 583.5h1M423 583.5h1M490 583.5h1M603 583.5h3M637 583.5h1M644 583.5h1M646 583.5h2M650 583.5h1M686 583.5h1M868 583.5h1M928 583.5h1M930 583.5h1M995 583.5h2M1073 583.5h1M1110 583.5h1M1136 583.5h2M1156 583.5h3M1187 583.5h1M1191 583.5h1M1250 583.5h1M89 584.5h2M94 584.5h1M127 584.5h3M359 584.5h1M407 584.5h3M420 584.5h1M422 584.5h1M491 584.5h2M601 584.5h2M606 584.5h2M636 584.5h1M638 584.5h1M643 584.5h1M648 584.5h2M674 584.5h1M685 584.5h1M869 584.5h1M929 584.5h1M994 584.5h1M1111 584.5h3M1134 584.5h2M1138 584.5h1M1148 584.5h3M1154 584.5h2M1159 584.5h3M1176 584.5h3M1186 584.5h1M1192 584.5h1M8 585.5h3M14 585.5h1M54 585.5h4M88 585.5h1M91 585.5h3M421 585.5h1M477 585.5h2M482 585.5h1M493 585.5h1M536 585.5h6M600 585.5h1M608 585.5h3M635 585.5h1M639 585.5h2M642 585.5h1M684 585.5h1M870 585.5h2M874 585.5h1M993 585.5h1M1081 585.5h1M1114 585.5h1M1139 585.5h2M1146 585.5h2M1151 585.5h3M1162 585.5h1M1174 585.5h2M1179 585.5h7M1193 585.5h2M6 586.5h2M11 586.5h3M65 586.5h1M73 586.5h1M326 586.5h1M371 586.5h2M476 586.5h1M479 586.5h3M494 586.5h1M503 586.5h3M534 586.5h2M542 586.5h1M553 586.5h1M611 586.5h3M634 586.5h1M641 586.5h1M872 586.5h2M991 586.5h2M1082 586.5h2M1095 586.5h4M1141 586.5h5M1163 586.5h2M1173 586.5h1M1195 586.5h12M1252 586.5h1M1260 586.5h2M5 587.5h1M66 587.5h1M72 587.5h1M74 587.5h1M325 587.5h1M361 587.5h2M367 587.5h4M495 587.5h2M499 587.5h4M506 587.5h1M513 587.5h1M533 587.5h1M543 587.5h2M551 587.5h2M593 587.5h1M614 587.5h1M630 587.5h4M676 587.5h1M990 587.5h1M1084 587.5h11M1099 587.5h3M1165 587.5h1M1172 587.5h1M1207 587.5h3M1233 587.5h5M1253 587.5h2M1258 587.5h2M75 588.5h2M79 588.5h4M86 588.5h1M323 588.5h2M363 588.5h4M497 588.5h2M512 588.5h1M514 588.5h2M545 588.5h2M550 588.5h1M594 588.5h2M598 588.5h1M615 588.5h1M677 588.5h2M682 588.5h1M989 588.5h1M1102 588.5h1M1116 588.5h1M1166 588.5h1M1171 588.5h1M1210 588.5h1M1232 588.5h1M1238 588.5h1M1255 588.5h3M77 589.5h2M83 589.5h3M314 589.5h2M322 589.5h1M474 589.5h1M511 589.5h1M516 589.5h2M547 589.5h3M555 589.5h1M585 589.5h1M596 589.5h2M616 589.5h1M679 589.5h3M1117 589.5h1M1167 589.5h2M1170 589.5h1M1211 589.5h1M1231 589.5h1M1239 589.5h1M1263 589.5h1M68 590.5h1M70 590.5h1M316 590.5h6M508 590.5h1M510 590.5h1M518 590.5h1M525 590.5h1M531 590.5h1M583 590.5h2M586 590.5h1M591 590.5h1M617 590.5h1M770 590.5h2M1169 590.5h1M1212 590.5h1M1225 590.5h2M1230 590.5h1M1240 590.5h1M69 591.5h1M509 591.5h1M524 591.5h1M526 591.5h1M582 591.5h1M587 591.5h1M618 591.5h1M772 591.5h2M1104 591.5h1M1213 591.5h5M1224 591.5h1M1227 591.5h3M523 592.5h1M527 592.5h2M557 592.5h1M581 592.5h1M588 592.5h1M619 592.5h1M774 592.5h1M1119 592.5h1M1218 592.5h1M1223 592.5h1M1265 592.5h2M520 593.5h1M522 593.5h1M529 593.5h1M558 593.5h1M580 593.5h1M589 593.5h1M620 593.5h1M775 593.5h1M1219 593.5h2M1222 593.5h1M1267 593.5h3M521 594.5h1M559 594.5h2M579 594.5h1M621 594.5h2M776 594.5h1M1221 594.5h1M561 595.5h1M578 595.5h1M623 595.5h3M777 595.5h1M1121 595.5h1M562 596.5h1M577 596.5h1M778 596.5h1M1122 596.5h1M563 597.5h2M576 597.5h1M1123 597.5h2M565 598.5h2M575 598.5h1M1125 598.5h1M567 599.5h4M574 599.5h1M780 599.5h1M1126 599.5h1M571 600.5h3M781 600.5h1M1127 600.5h2M782 601.5h1M783 602.5h2M785 603.5h5M790 604.5h1M791 605.5h2M793 606.5h1M794 607.5h1M809 607.5h1M796 610.5h1M807 610.5h1M797 611.5h5M802 612.5h2M804 613.5h2" fill="none" stroke="#1e90ff" stroke-width="1"/>
</g>
<text x="9" y="545" font-size="9.6" fill="#000" stroke="#000" stroke-width="0.12" textLength="68" lengthAdjust="spacingAndGlyphs">RSI(14) 31.9003</text>
<text x="1601" y="543" font-size="9.6" fill="#000" stroke="#000" stroke-width="0.12" textLength="14.6" lengthAdjust="spacingAndGlyphs">100</text>
<text x="1601" y="564" font-size="9.6" fill="#000" stroke="#000" stroke-width="0.12" textLength="9.2" lengthAdjust="spacingAndGlyphs">70</text>
<text x="1601" y="600" font-size="9.6" fill="#000" stroke="#000" stroke-width="0.12" textLength="9.2" lengthAdjust="spacingAndGlyphs">30</text>
<text x="1601" y="620.5" font-size="9.6" fill="#000" stroke="#000" stroke-width="0.12">0</text>
<g shape-rendering="crispEdges">
<rect x="5" y="658" width="1" height="6" fill="#c0c0c0"/>
<rect x="9" y="658" width="1" height="7" fill="#c0c0c0"/>
<rect x="13" y="658" width="1" height="8" fill="#c0c0c0"/>
<rect x="17" y="658" width="1" height="7" fill="#c0c0c0"/>
<rect x="21" y="658" width="1" height="7" fill="#c0c0c0"/>
<rect x="25" y="658" width="1" height="4" fill="#c0c0c0"/>
<rect x="29" y="658" width="1" height="1" fill="#c0c0c0"/>
<rect x="33" y="656" width="1" height="2" fill="#c0c0c0"/>
<rect x="37" y="655" width="1" height="3" fill="#c0c0c0"/>
<rect x="41" y="654" width="1" height="4" fill="#c0c0c0"/>
<rect x="45" y="654" width="1" height="4" fill="#c0c0c0"/>
<rect x="49" y="652" width="1" height="6" fill="#c0c0c0"/>
<rect x="53" y="656" width="1" height="2" fill="#c0c0c0"/>
<rect x="57" y="658" width="1" height="1" fill="#c0c0c0"/>
<rect x="61" y="658" width="1" height="7" fill="#c0c0c0"/>
<rect x="65" y="658" width="1" height="9" fill="#c0c0c0"/>
<rect x="69" y="658" width="1" height="14" fill="#c0c0c0"/>
<rect x="73" y="658" width="1" height="16" fill="#c0c0c0"/>
<rect x="77" y="658" width="1" height="19" fill="#c0c0c0"/>
<rect x="81" y="658" width="1" height="20" fill="#c0c0c0"/>
<rect x="85" y="658" width="1" height="23" fill="#c0c0c0"/>
<rect x="89" y="658" width="1" height="22" fill="#c0c0c0"/>
<rect x="93" y="658" width="1" height="22" fill="#c0c0c0"/>
<rect x="97" y="658" width="1" height="20" fill="#c0c0c0"/>
<rect x="101" y="658" width="1" height="17" fill="#c0c0c0"/>
<rect x="105" y="658" width="1" height="15" fill="#c0c0c0"/>
<rect x="109" y="658" width="1" height="12" fill="#c0c0c0"/>
<rect x="113" y="658" width="1" height="11" fill="#c0c0c0"/>
<rect x="117" y="658" width="1" height="8" fill="#c0c0c0"/>
<rect x="121" y="658" width="1" height="6" fill="#c0c0c0"/>
<rect x="125" y="658" width="1" height="7" fill="#c0c0c0"/>
<rect x="129" y="658" width="1" height="8" fill="#c0c0c0"/>
<rect x="133" y="658" width="1" height="8" fill="#c0c0c0"/>
<rect x="137" y="658" width="1" height="6" fill="#c0c0c0"/>
<rect x="141" y="658" width="1" height="4" fill="#c0c0c0"/>
<rect x="145" y="658" width="1" height="1" fill="#c0c0c0"/>
<rect x="149" y="655" width="1" height="3" fill="#c0c0c0"/>
<rect x="153" y="651" width="1" height="7" fill="#c0c0c0"/>
<rect x="157" y="649" width="1" height="9" fill="#c0c0c0"/>
<rect x="161" y="648" width="1" height="10" fill="#c0c0c0"/>
<rect x="165" y="650" width="1" height="8" fill="#c0c0c0"/>
<rect x="169" y="649" width="1" height="9" fill="#c0c0c0"/>
<rect x="173" y="649" width="1" height="9" fill="#c0c0c0"/>
<rect x="177" y="649" width="1" height="9" fill="#c0c0c0"/>
<rect x="181" y="647" width="1" height="11" fill="#c0c0c0"/>
<rect x="185" y="646" width="1" height="12" fill="#c0c0c0"/>
<rect x="189" y="644" width="1" height="14" fill="#c0c0c0"/>
<rect x="193" y="645" width="1" height="13" fill="#c0c0c0"/>
<rect x="197" y="645" width="1" height="13" fill="#c0c0c0"/>
<rect x="201" y="645" width="1" height="13" fill="#c0c0c0"/>
<rect x="205" y="645" width="1" height="13" fill="#c0c0c0"/>
<rect x="209" y="644" width="1" height="14" fill="#c0c0c0"/>
<rect x="213" y="643" width="1" height="15" fill="#c0c0c0"/>
<rect x="217" y="643" width="1" height="15" fill="#c0c0c0"/>
<rect x="221" y="644" width="1" height="14" fill="#c0c0c0"/>
<rect x="225" y="645" width="1" height="13" fill="#c0c0c0"/>
<rect x="229" y="647" width="1" height="11" fill="#c0c0c0"/>
<rect x="233" y="649" width="1" height="9" fill="#c0c0c0"/>
<rect x="237" y="649" width="1" height="9" fill="#c0c0c0"/>
<rect x="241" y="649" width="1" height="9" fill="#c0c0c0"/>
<rect x="245" y="649" width="1" height="9" fill="#c0c0c0"/>
<rect x="249" y="650" width="1" height="8" fill="#c0c0c0"/>
<rect x="253" y="648" width="1" height="10" fill="#c0c0c0"/>
<rect x="257" y="648" width="1" height="10" fill="#c0c0c0"/>
<rect x="261" y="646" width="1" height="12" fill="#c0c0c0"/>
<rect x="265" y="645" width="1" height="13" fill="#c0c0c0"/>
<rect x="269" y="645" width="1" height="13" fill="#c0c0c0"/>
<rect x="273" y="646" width="1" height="12" fill="#c0c0c0"/>
<rect x="277" y="647" width="1" height="11" fill="#c0c0c0"/>
<rect x="281" y="648" width="1" height="10" fill="#c0c0c0"/>
<rect x="285" y="648" width="1" height="10" fill="#c0c0c0"/>
<rect x="289" y="648" width="1" height="10" fill="#c0c0c0"/>
<rect x="293" y="648" width="1" height="10" fill="#c0c0c0"/>
<rect x="297" y="648" width="1" height="10" fill="#c0c0c0"/>
<rect x="301" y="648" width="1" height="10" fill="#c0c0c0"/>
<rect x="305" y="647" width="1" height="11" fill="#c0c0c0"/>
<rect x="309" y="648" width="1" height="10" fill="#c0c0c0"/>
<rect x="313" y="653" width="1" height="5" fill="#c0c0c0"/>
<rect x="317" y="657" width="1" height="1" fill="#c0c0c0"/>
<rect x="321" y="658" width="1" height="2" fill="#c0c0c0"/>
<rect x="325" y="658" width="1" height="4" fill="#c0c0c0"/>
<rect x="329" y="658" width="1" height="5" fill="#c0c0c0"/>
<rect x="333" y="658" width="1" height="4" fill="#c0c0c0"/>
<rect x="337" y="658" width="1" height="3" fill="#c0c0c0"/>
<rect x="341" y="658" width="1" height="2" fill="#c0c0c0"/>
<rect x="345" y="658" width="1" height="1" fill="#c0c0c0"/>
<rect x="349" y="657" width="1" height="1" fill="#c0c0c0"/>
<rect x="353" y="656" width="1" height="2" fill="#c0c0c0"/>
<rect x="357" y="657" width="1" height="1" fill="#c0c0c0"/>
<rect x="361" y="658" width="1" height="2" fill="#c0c0c0"/>
<rect x="365" y="658" width="1" height="4" fill="#c0c0c0"/>
<rect x="369" y="658" width="1" height="6" fill="#c0c0c0"/>
<rect x="373" y="658" width="1" height="7" fill="#c0c0c0"/>
<rect x="377" y="658" width="1" height="5" fill="#c0c0c0"/>
<rect x="381" y="658" width="1" height="4" fill="#c0c0c0"/>
<rect x="385" y="658" width="1" height="2" fill="#c0c0c0"/>
<rect x="389" y="657" width="1" height="1" fill="#c0c0c0"/>
<rect x="393" y="655" width="1" height="3" fill="#c0c0c0"/>
<rect x="397" y="654" width="1" height="4" fill="#c0c0c0"/>
<rect x="401" y="654" width="1" height="4" fill="#c0c0c0"/>
<rect x="405" y="656" width="1" height="2" fill="#c0c0c0"/>
<rect x="409" y="658" width="1" height="1" fill="#c0c0c0"/>
<rect x="413" y="658" width="1" height="1" fill="#c0c0c0"/>
<rect x="417" y="658" width="1" height="2" fill="#c0c0c0"/>
<rect x="421" y="658" width="1" height="3" fill="#c0c0c0"/>
<rect x="425" y="658" width="1" height="3" fill="#c0c0c0"/>
<rect x="429" y="658" width="1" height="2" fill="#c0c0c0"/>
<rect x="433" y="658" width="1" height="2" fill="#c0c0c0"/>
<rect x="437" y="658" width="1" height="1" fill="#c0c0c0"/>
<rect x="441" y="655" width="1" height="3" fill="#c0c0c0"/>
<rect x="445" y="653" width="1" height="5" fill="#c0c0c0"/>
<rect x="449" y="652" width="1" height="6" fill="#c0c0c0"/>
<rect x="453" y="650" width="1" height="8" fill="#c0c0c0"/>
<rect x="457" y="649" width="1" height="9" fill="#c0c0c0"/>
<rect x="461" y="648" width="1" height="10" fill="#c0c0c0"/>
<rect x="465" y="647" width="1" height="11" fill="#c0c0c0"/>
<rect x="469" y="650" width="1" height="8" fill="#c0c0c0"/>
<rect x="473" y="654" width="1" height="4" fill="#c0c0c0"/>
<rect x="477" y="657" width="1" height="1" fill="#c0c0c0"/>
<rect x="481" y="658" width="1" height="1" fill="#c0c0c0"/>
<rect x="485" y="658" width="1" height="2" fill="#c0c0c0"/>
<rect x="489" y="658" width="1" height="3" fill="#c0c0c0"/>
<rect x="493" y="658" width="1" height="4" fill="#c0c0c0"/>
<rect x="497" y="658" width="1" height="6" fill="#c0c0c0"/>
<rect x="501" y="658" width="1" height="7" fill="#c0c0c0"/>
<rect x="505" y="658" width="1" height="8" fill="#c0c0c0"/>
<rect x="509" y="658" width="1" height="10" fill="#c0c0c0"/>
<rect x="513" y="658" width="1" height="11" fill="#c0c0c0"/>
<rect x="517" y="658" width="1" height="12" fill="#c0c0c0"/>
<rect x="521" y="658" width="1" height="14" fill="#c0c0c0"/>
<rect x="525" y="658" width="1" height="15" fill="#c0c0c0"/>
<rect x="529" y="658" width="1" height="17" fill="#c0c0c0"/>
<rect x="533" y="658" width="1" height="17" fill="#c0c0c0"/>
<rect x="537" y="658" width="1" height="16" fill="#c0c0c0"/>
<rect x="541" y="658" width="1" height="15" fill="#c0c0c0"/>
<rect x="545" y="658" width="1" height="16" fill="#c0c0c0"/>
<rect x="549" y="658" width="1" height="16" fill="#c0c0c0"/>
<rect x="553" y="658" width="1" height="15" fill="#c0c0c0"/>
<rect x="557" y="658" width="1" height="17" fill="#c0c0c0"/>
<rect x="561" y="658" width="1" height="19" fill="#c0c0c0"/>
<rect x="565" y="658" width="1" height="22" fill="#c0c0c0"/>
<rect x="569" y="658" width="1" height="25" fill="#c0c0c0"/>
<rect x="573" y="658" width="1" height="27" fill="#c0c0c0"/>
<rect x="577" y="658" width="1" height="27" fill="#c0c0c0"/>
<rect x="581" y="658" width="1" height="27" fill="#c0c0c0"/>
<rect x="585" y="658" width="1" height="25" fill="#c0c0c0"/>
<rect x="589" y="658" width="1" height="26" fill="#c0c0c0"/>
<rect x="593" y="658" width="1" height="24" fill="#c0c0c0"/>
<rect x="597" y="658" width="1" height="23" fill="#c0c0c0"/>
<rect x="601" y="658" width="1" height="21" fill="#c0c0c0"/>
<rect x="605" y="658" width="1" height="19" fill="#c0c0c0"/>
<rect x="609" y="658" width="1" height="18" fill="#c0c0c0"/>
<rect x="613" y="658" width="1" height="17" fill="#c0c0c0"/>
<rect x="617" y="658" width="1" height="18" fill="#c0c0c0"/>
<rect x="621" y="658" width="1" height="19" fill="#c0c0c0"/>
<rect x="625" y="658" width="1" height="20" fill="#c0c0c0"/>
<rect x="629" y="658" width="1" height="20" fill="#c0c0c0"/>
<rect x="633" y="658" width="1" height="19" fill="#c0c0c0"/>
<rect x="637" y="658" width="1" height="17" fill="#c0c0c0"/>
<rect x="641" y="658" width="1" height="17" fill="#c0c0c0"/>
<rect x="645" y="658" width="1" height="15" fill="#c0c0c0"/>
<rect x="649" y="658" width="1" height="14" fill="#c0c0c0"/>
<rect x="653" y="658" width="1" height="12" fill="#c0c0c0"/>
<rect x="657" y="658" width="1" height="11" fill="#c0c0c0"/>
<rect x="661" y="658" width="1" height="10" fill="#c0c0c0"/>
<rect x="665" y="658" width="1" height="7" fill="#c0c0c0"/>
<rect x="669" y="658" width="1" height="5" fill="#c0c0c0"/>
<rect x="673" y="658" width="1" height="6" fill="#c0c0c0"/>
<rect x="677" y="658" width="1" height="8" fill="#c0c0c0"/>
<rect x="681" y="658" width="1" height="10" fill="#c0c0c0"/>
<rect x="685" y="658" width="1" height="10" fill="#c0c0c0"/>
<rect x="689" y="658" width="1" height="9" fill="#c0c0c0"/>
<rect x="693" y="658" width="1" height="6" fill="#c0c0c0"/>
<rect x="697" y="658" width="1" height="3" fill="#c0c0c0"/>
<rect x="701" y="658" width="1" height="1" fill="#c0c0c0"/>
<rect x="705" y="656" width="1" height="2" fill="#c0c0c0"/>
<rect x="709" y="654" width="1" height="4" fill="#c0c0c0"/>
<rect x="713" y="652" width="1" height="6" fill="#c0c0c0"/>
<rect x="717" y="652" width="1" height="6" fill="#c0c0c0"/>
<rect x="721" y="650" width="1" height="8" fill="#c0c0c0"/>
<rect x="725" y="648" width="1" height="10" fill="#c0c0c0"/>
<rect x="729" y="646" width="1" height="12" fill="#c0c0c0"/>
<rect x="733" y="645" width="1" height="13" fill="#c0c0c0"/>
<rect x="737" y="644" width="1" height="14" fill="#c0c0c0"/>
<rect x="741" y="643" width="1" height="15" fill="#c0c0c0"/>
<rect x="745" y="643" width="1" height="15" fill="#c0c0c0"/>
<rect x="749" y="644" width="1" height="14" fill="#c0c0c0"/>
<rect x="753" y="646" width="1" height="12" fill="#c0c0c0"/>
<rect x="757" y="647" width="1" height="11" fill="#c0c0c0"/>
<rect x="761" y="649" width="1" height="9" fill="#c0c0c0"/>
<rect x="765" y="650" width="1" height="8" fill="#c0c0c0"/>
<rect x="769" y="654" width="1" height="4" fill="#c0c0c0"/>
<rect x="773" y="658" width="1" height="1" fill="#c0c0c0"/>
<rect x="777" y="658" width="1" height="4" fill="#c0c0c0"/>
<rect x="781" y="658" width="1" height="10" fill="#c0c0c0"/>
<rect x="785" y="658" width="1" height="16" fill="#c0c0c0"/>
<rect x="789" y="658" width="1" height="21" fill="#c0c0c0"/>
<rect x="793" y="658" width="1" height="26" fill="#c0c0c0"/>
<rect x="797" y="658" width="1" height="35" fill="#c0c0c0"/>
<rect x="801" y="658" width="1" height="42" fill="#c0c0c0"/>
<rect x="805" y="658" width="1" height="50" fill="#c0c0c0"/>
<rect x="809" y="658" width="1" height="55" fill="#c0c0c0"/>
<rect x="813" y="658" width="1" height="55" fill="#c0c0c0"/>
<rect x="817" y="658" width="1" height="49" fill="#c0c0c0"/>
<rect x="821" y="658" width="1" height="43" fill="#c0c0c0"/>
<rect x="825" y="658" width="1" height="37" fill="#c0c0c0"/>
<rect x="829" y="658" width="1" height="36" fill="#c0c0c0"/>
<rect x="833" y="658" width="1" height="27" fill="#c0c0c0"/>
<rect x="837" y="658" width="1" height="17" fill="#c0c0c0"/>
<rect x="841" y="658" width="1" height="4" fill="#c0c0c0"/>
<rect x="845" y="650" width="1" height="8" fill="#c0c0c0"/>
<rect x="849" y="640" width="1" height="18" fill="#c0c0c0"/>
<rect x="853" y="636" width="1" height="22" fill="#c0c0c0"/>
<rect x="857" y="633" width="1" height="25" fill="#c0c0c0"/>
<rect x="861" y="632" width="1" height="26" fill="#c0c0c0"/>
<rect x="865" y="637" width="1" height="21" fill="#c0c0c0"/>
<rect x="869" y="645" width="1" height="13" fill="#c0c0c0"/>
<rect x="873" y="653" width="1" height="5" fill="#c0c0c0"/>
<rect x="877" y="656" width="1" height="2" fill="#c0c0c0"/>
<rect x="881" y="657" width="1" height="1" fill="#c0c0c0"/>
<rect x="885" y="656" width="1" height="2" fill="#c0c0c0"/>
<rect x="889" y="653" width="1" height="5" fill="#c0c0c0"/>
<rect x="893" y="649" width="1" height="9" fill="#c0c0c0"/>
<rect x="897" y="647" width="1" height="11" fill="#c0c0c0"/>
<rect x="901" y="645" width="1" height="13" fill="#c0c0c0"/>
<rect x="905" y="646" width="1" height="12" fill="#c0c0c0"/>
<rect x="909" y="646" width="1" height="12" fill="#c0c0c0"/>
<rect x="913" y="649" width="1" height="9" fill="#c0c0c0"/>
<rect x="917" y="652" width="1" height="6" fill="#c0c0c0"/>
<rect x="921" y="654" width="1" height="4" fill="#c0c0c0"/>
<rect x="925" y="655" width="1" height="3" fill="#c0c0c0"/>
<rect x="929" y="658" width="1" height="1" fill="#c0c0c0"/>
<rect x="933" y="658" width="1" height="1" fill="#c0c0c0"/>
<rect x="937" y="658" width="1" height="1" fill="#c0c0c0"/>
<rect x="941" y="658" width="1" height="1" fill="#c0c0c0"/>
<rect x="945" y="658" width="1" height="1" fill="#c0c0c0"/>
<rect x="949" y="658" width="1" height="1" fill="#c0c0c0"/>
<rect x="953" y="657" width="1" height="1" fill="#c0c0c0"/>
<rect x="957" y="656" width="1" height="2" fill="#c0c0c0"/>
<rect x="961" y="654" width="1" height="4" fill="#c0c0c0"/>
<rect x="965" y="652" width="1" height="6" fill="#c0c0c0"/>
<rect x="969" y="650" width="1" height="8" fill="#c0c0c0"/>
<rect x="973" y="648" width="1" height="10" fill="#c0c0c0"/>
<rect x="977" y="648" width="1" height="10" fill="#c0c0c0"/>
<rect x="981" y="648" width="1" height="10" fill="#c0c0c0"/>
<rect x="985" y="651" width="1" height="7" fill="#c0c0c0"/>
<rect x="989" y="656" width="1" height="2" fill="#c0c0c0"/>
<rect x="993" y="658" width="1" height="1" fill="#c0c0c0"/>
<rect x="997" y="658" width="1" height="3" fill="#c0c0c0"/>
<rect x="1001" y="658" width="1" height="1" fill="#c0c0c0"/>
<rect x="1005" y="656" width="1" height="2" fill="#c0c0c0"/>
<rect x="1009" y="654" width="1" height="4" fill="#c0c0c0"/>
<rect x="1013" y="655" width="1" height="3" fill="#c0c0c0"/>
<rect x="1017" y="655" width="1" height="3" fill="#c0c0c0"/>
<rect x="1021" y="654" width="1" height="4" fill="#c0c0c0"/>
<rect x="1025" y="655" width="1" height="3" fill="#c0c0c0"/>
<rect x="1029" y="655" width="1" height="3" fill="#c0c0c0"/>
<rect x="1033" y="654" width="1" height="4" fill="#c0c0c0"/>
<rect x="1037" y="654" width="1" height="4" fill="#c0c0c0"/>
<rect x="1041" y="654" width="1" height="4" fill="#c0c0c0"/>
<rect x="1045" y="654" width="1" height="4" fill="#c0c0c0"/>
<rect x="1049" y="654" width="1" height="4" fill="#c0c0c0"/>
<rect x="1053" y="657" width="1" height="1" fill="#c0c0c0"/>
<rect x="1057" y="657" width="1" height="1" fill="#c0c0c0"/>
<rect x="1061" y="656" width="1" height="2" fill="#c0c0c0"/>
<rect x="1065" y="656" width="1" height="2" fill="#c0c0c0"/>
<rect x="1069" y="656" width="1" height="2" fill="#c0c0c0"/>
<rect x="1073" y="658" width="1" height="1" fill="#c0c0c0"/>
<rect x="1077" y="658" width="1" height="1" fill="#c0c0c0"/>
<rect x="1081" y="658" width="1" height="3" fill="#c0c0c0"/>
<rect x="1085" y="658" width="1" height="6" fill="#c0c0c0"/>
<rect x="1089" y="658" width="1" height="8" fill="#c0c0c0"/>
<rect x="1093" y="658" width="1" height="9" fill="#c0c0c0"/>
<rect x="1097" y="658" width="1" height="10" fill="#c0c0c0"/>
<rect x="1101" y="658" width="1" height="11" fill="#c0c0c0"/>
<rect x="1105" y="658" width="1" height="14" fill="#c0c0c0"/>
<rect x="1109" y="658" width="1" height="13" fill="#c0c0c0"/>
<rect x="1113" y="658" width="1" height="13" fill="#c0c0c0"/>
<rect x="1117" y="658" width="1" height="15" fill="#c0c0c0"/>
<rect x="1121" y="658" width="1" height="19" fill="#c0c0c0"/>
<rect x="1125" y="658" width="1" height="24" fill="#c0c0c0"/>
<rect x="1129" y="658" width="1" height="31" fill="#c0c0c0"/>
<rect x="1133" y="658" width="1" height="30" fill="#c0c0c0"/>
<rect x="1137" y="658" width="1" height="27" fill="#c0c0c0"/>
<rect x="1141" y="658" width="1" height="27" fill="#c0c0c0"/>
<rect x="1145" y="658" width="1" height="27" fill="#c0c0c0"/>
<rect x="1149" y="658" width="1" height="26" fill="#c0c0c0"/>
<rect x="1153" y="658" width="1" height="24" fill="#c0c0c0"/>
<rect x="1157" y="658" width="1" height="23" fill="#c0c0c0"/>
<rect x="1161" y="658" width="1" height="22" fill="#c0c0c0"/>
<rect x="1165" y="658" width="1" height="22" fill="#c0c0c0"/>
<rect x="1169" y="658" width="1" height="23" fill="#c0c0c0"/>
<rect x="1173" y="658" width="1" height="23" fill="#c0c0c0"/>
<rect x="1177" y="658" width="1" height="22" fill="#c0c0c0"/>
<rect x="1181" y="658" width="1" height="21" fill="#c0c0c0"/>
<rect x="1185" y="658" width="1" height="20" fill="#c0c0c0"/>
<rect x="1189" y="658" width="1" height="18" fill="#c0c0c0"/>
<rect x="1193" y="658" width="1" height="18" fill="#c0c0c0"/>
<rect x="1197" y="658" width="1" height="18" fill="#c0c0c0"/>
<rect x="1201" y="658" width="1" height="18" fill="#c0c0c0"/>
<rect x="1205" y="658" width="1" height="18" fill="#c0c0c0"/>
<rect x="1209" y="658" width="1" height="17" fill="#c0c0c0"/>
<rect x="1213" y="658" width="1" height="18" fill="#c0c0c0"/>
<rect x="1217" y="658" width="1" height="19" fill="#c0c0c0"/>
<rect x="1221" y="658" width="1" height="21" fill="#c0c0c0"/>
<rect x="1225" y="658" width="1" height="21" fill="#c0c0c0"/>
<rect x="1229" y="658" width="1" height="21" fill="#c0c0c0"/>
<rect x="1233" y="658" width="1" height="20" fill="#c0c0c0"/>
<rect x="1237" y="658" width="1" height="19" fill="#c0c0c0"/>
<rect x="1241" y="658" width="1" height="20" fill="#c0c0c0"/>
<rect x="1245" y="658" width="1" height="17" fill="#c0c0c0"/>
<rect x="1249" y="658" width="1" height="16" fill="#c0c0c0"/>
<rect x="1253" y="658" width="1" height="16" fill="#c0c0c0"/>
<rect x="1257" y="658" width="1" height="16" fill="#c0c0c0"/>
<rect x="1261" y="658" width="1" height="16" fill="#c0c0c0"/>
<rect x="1265" y="658" width="1" height="18" fill="#c0c0c0"/>
<rect x="1269" y="658" width="1" height="19" fill="#c0c0c0"/>
<path d="M802.5 675v2M806.5 681v2M810.5 687v2M838.5 697v2M842.5 691v2M848.5 680v2M851.5 674v2M854.5 668v2M858.5 661v2M875 642.5h3M881 643.5h1M211 644.5h1M215 644.5h3M221 644.5h3M227 644.5h3M233 644.5h2M870 644.5h2M882 644.5h2M209 645.5h2M235 645.5h1M239 645.5h3M751 645.5h1M755 645.5h3M761 645.5h3M869 645.5h1M199 646.5h1M203 646.5h3M245 646.5h2M281 646.5h3M287 646.5h3M293 646.5h3M744 646.5h2M749 646.5h2M767 646.5h3M887 646.5h3M187 647.5h1M191 647.5h3M197 647.5h2M247 647.5h1M251 647.5h3M269 647.5h3M275 647.5h3M299 647.5h3M305 647.5h3M743 647.5h1M185 648.5h2M257 648.5h3M263 648.5h3M311 648.5h3M739 648.5h1M773 648.5h1M893 648.5h1M919 648.5h1M180 649.5h2M317 649.5h2M737 649.5h2M774 649.5h2M866 649.5h1M894 649.5h2M911 649.5h3M917 649.5h2M923 649.5h3M179 650.5h1M319 650.5h1M473 650.5h2M865 650.5h1M907 650.5h1M929 650.5h2M175 651.5h1M323 651.5h1M467 651.5h3M475 651.5h1M479 651.5h3M732 651.5h2M864 651.5h1M899 651.5h3M905 651.5h2M931 651.5h1M983 651.5h3M989 651.5h3M173 652.5h2M324 652.5h2M463 652.5h1M485 652.5h2M731 652.5h1M779 652.5h2M935 652.5h1M979 652.5h1M995 652.5h3M329 653.5h1M461 653.5h2M487 653.5h1M781 653.5h1M936 653.5h2M977 653.5h2M1001 653.5h3M168 654.5h2M330 654.5h2M491 654.5h1M726 654.5h2M941 654.5h2M971 654.5h3M1007 654.5h3M1037 654.5h3M1043 654.5h3M1049 654.5h3M1055 654.5h3M1061 654.5h3M167 655.5h1M455 655.5h3M492 655.5h2M725 655.5h1M862 655.5h1M943 655.5h1M967 655.5h1M1013 655.5h2M1027 655.5h1M1031 655.5h3M1067 655.5h3M1073 655.5h2M53 656.5h3M59 656.5h3M163 656.5h1M335 656.5h1M415 656.5h1M451 656.5h1M785 656.5h1M861 656.5h1M947 656.5h3M965 656.5h2M1015 656.5h1M1019 656.5h3M1025 656.5h2M1075 656.5h1M1079 656.5h3M48 657.5h2M65 657.5h1M161 657.5h2M336 657.5h2M407 657.5h3M413 657.5h2M419 657.5h3M425 657.5h2M449 657.5h2M497 657.5h1M720 657.5h2M786 657.5h1M860 657.5h1M953 657.5h3M959 657.5h3M1085 657.5h2M47 658.5h1M66 658.5h2M341 658.5h2M403 658.5h1M427 658.5h1M431 658.5h3M439 658.5h1M443 658.5h3M498 658.5h2M719 658.5h1M787 658.5h1M1087 658.5h1M43 659.5h1M156 659.5h2M343 659.5h1M347 659.5h3M353 659.5h3M359 659.5h3M365 659.5h3M371 659.5h3M401 659.5h2M437 659.5h2M1091 659.5h1M41 660.5h2M71 660.5h1M155 660.5h1M377 660.5h3M383 660.5h3M389 660.5h3M395 660.5h3M503 660.5h1M714 660.5h2M1092 660.5h2M5 661.5h3M35 661.5h3M72 661.5h2M504 661.5h2M713 661.5h1M1097 661.5h2M11 662.5h3M31 662.5h1M150 662.5h2M509 662.5h2M707 662.5h3M791 662.5h1M1099 662.5h1M17 663.5h3M23 663.5h3M29 663.5h2M77 663.5h1M149 663.5h1M511 663.5h1M703 663.5h1M792 663.5h1M857 663.5h1M1103 663.5h1M78 664.5h1M143 664.5h3M515 664.5h1M701 664.5h2M793 664.5h1M1104 664.5h2M79 665.5h1M516 665.5h2M691 665.5h1M695 665.5h3M138 666.5h2M521 666.5h2M683 666.5h3M689 666.5h2M1109 666.5h2M137 667.5h1M523 667.5h1M677 667.5h3M855 667.5h1M1111 667.5h1M83 668.5h2M131 668.5h3M527 668.5h1M672 668.5h2M796 668.5h1M1115 668.5h1M85 669.5h1M528 669.5h2M671 669.5h1M797 669.5h1M1116 669.5h2M126 670.5h2M533 670.5h2M667 670.5h1M798 670.5h1M1121 670.5h1M125 671.5h1M535 671.5h1M665 671.5h2M1122 671.5h2M89 672.5h1M120 672.5h2M539 672.5h3M545 672.5h2M660 672.5h2M90 673.5h2M119 673.5h1M547 673.5h1M551 673.5h3M557 673.5h2M659 673.5h1M852 673.5h1M1127 673.5h1M115 674.5h1M559 674.5h1M563 674.5h3M653 674.5h3M801 674.5h1M1128 674.5h2M95 675.5h1M113 675.5h2M569 675.5h2M643 675.5h1M647 675.5h3M1259 675.5h3M1265 675.5h3M1269 675.5h1M96 676.5h2M107 676.5h3M571 676.5h1M631 676.5h1M635 676.5h3M641 676.5h2M1133 676.5h1M1207 676.5h1M1211 676.5h3M1217 676.5h3M1223 676.5h3M1255 676.5h1M101 677.5h3M575 677.5h1M623 677.5h3M629 677.5h2M1134 677.5h2M1205 677.5h2M1229 677.5h3M1235 677.5h3M1241 677.5h3M1247 677.5h3M1253 677.5h2M576 678.5h2M619 678.5h1M1193 678.5h3M1199 678.5h3M581 679.5h2M617 679.5h2M849 679.5h1M1139 679.5h1M1187 679.5h3M583 680.5h1M611 680.5h3M805 680.5h1M1140 680.5h2M1181 680.5h3M587 681.5h3M607 681.5h1M1145 681.5h2M1175 681.5h3M593 682.5h2M599 682.5h3M605 682.5h2M1147 682.5h1M1169 682.5h3M595 683.5h1M1151 683.5h1M1163 683.5h3M1152 684.5h2M1157 684.5h3M846 685.5h1M809 686.5h1M845 686.5h1M844 687.5h1M813 692.5h1M814 693.5h1M841 693.5h1M815 694.5h1M819 698.5h2M821 699.5h1M837 699.5h1M825 701.5h2M831 701.5h3M827 702.5h1" fill="none" stroke="#ff0000" stroke-width="1"/>
</g>
<text x="9" y="639" font-size="9.6" fill="#000" stroke="#000" stroke-width="0.12" textLength="154" lengthAdjust="spacingAndGlyphs">MACD(12,26,9) -0.003751 -0.003389</text>
<rect x="1598" y="658" width="2" height="1" fill="#000000"/>
<text x="1601" y="636.8" font-size="9.6" fill="#000" stroke="#000" stroke-width="0.12" textLength="37" lengthAdjust="spacingAndGlyphs">0.005818</text>
<text x="1601" y="661.7" font-size="9.6" fill="#000" stroke="#000" stroke-width="0.12" textLength="17.6" lengthAdjust="spacingAndGlyphs">0.00</text>
<text x="1601" y="715.1" font-size="9.6" fill="#000" stroke="#000" stroke-width="0.12" textLength="40.3" lengthAdjust="spacingAndGlyphs">-0.011514</text>
<path d="M8 31 L15 31 L11.5 35 Z" fill="#000"/>
<text x="20" y="36" font-size="9.6" fill="#000" stroke="#000" stroke-width="0.12" textLength="65" lengthAdjust="spacingAndGlyphs">USDCHF,Daily</text>
<text x="91.2" y="36" font-size="9.6" fill="#000" stroke="#000" stroke-width="0.12" textLength="32.5" lengthAdjust="spacingAndGlyphs">0.93395</text>
<text x="127" y="36" font-size="9.6" fill="#000" stroke="#000" stroke-width="0.12" textLength="32.2" lengthAdjust="spacingAndGlyphs">0.93395</text>
<text x="162.7" y="36" font-size="9.6" fill="#000" stroke="#000" stroke-width="0.12" textLength="33.0" lengthAdjust="spacingAndGlyphs">0.93203</text>
<text x="199" y="36" font-size="9.6" fill="#000" stroke="#000" stroke-width="0.12" textLength="33" lengthAdjust="spacingAndGlyphs">0.93252</text>
<rect x="5" y="719" width="1" height="2" fill="#000000"/>
<text x="4.5" y="731" font-size="9.6" fill="#000" stroke="#000" stroke-width="0.12" textLength="46.4" lengthAdjust="spacingAndGlyphs">19 Jul 2019</text>
<rect x="69" y="719" width="1" height="2" fill="#000000"/>
<text x="68.5" y="731" font-size="9.6" fill="#000" stroke="#000" stroke-width="0.12" textLength="48.1" lengthAdjust="spacingAndGlyphs">7 Aug 2019</text>
<rect x="133" y="719" width="1" height="2" fill="#000000"/>
<text x="132.5" y="731" font-size="9.6" fill="#000" stroke="#000" stroke-width="0.12" textLength="53.1" lengthAdjust="spacingAndGlyphs">26 Aug 2019</text>
<rect x="197" y="719" width="1" height="2" fill="#000000"/>
<text x="196.5" y="731" font-size="9.6" fill="#000" stroke="#000" stroke-width="0.12" textLength="50.7" lengthAdjust="spacingAndGlyphs">13 Sep 2019</text>
<rect x="261" y="719" width="1" height="2" fill="#000000"/>
<text x="260.5" y="731" font-size="9.6" fill="#000" stroke="#000" stroke-width="0.12" textLength="45.1" lengthAdjust="spacingAndGlyphs">2 Oct 2019</text>
<rect x="325" y="719" width="1" height="2" fill="#000000"/>
<text x="324.5" y="731" font-size="9.6" fill="#000" stroke="#000" stroke-width="0.12" textLength="50.1" lengthAdjust="spacingAndGlyphs">21 Oct 2019</text>
<rect x="389" y="719" width="1" height="2" fill="#000000"/>
<text x="388.5" y="731" font-size="9.6" fill="#000" stroke="#000" stroke-width="0.12" textLength="48.3" lengthAdjust="spacingAndGlyphs">8 Nov 2019</text>
<rect x="453" y="719" width="1" height="2" fill="#000000"/>
<text x="452.5" y="731" font-size="9.6" fill="#000" stroke="#000" stroke-width="0.12" textLength="53.3" lengthAdjust="spacingAndGlyphs">27 Nov 2019</text>
<rect x="517" y="719" width="1" height="2" fill="#000000"/>
<text x="516.5" y="731" font-size="9.6" fill="#000" stroke="#000" stroke-width="0.12" textLength="52.1" lengthAdjust="spacingAndGlyphs">16 Dec 2019</text>
<rect x="581" y="719" width="1" height="2" fill="#000000"/>
<text x="580.5" y="731" font-size="9.6" fill="#000" stroke="#000" stroke-width="0.12" textLength="44.3" lengthAdjust="spacingAndGlyphs">3 Jan 2020</text>
<rect x="645" y="719" width="1" height="2" fill="#000000"/>
<text x="644.5" y="731" font-size="9.6" fill="#000" stroke="#000" stroke-width="0.12" textLength="49.3" lengthAdjust="spacingAndGlyphs">22 Jan 2020</text>
<rect x="709" y="719" width="1" height="2" fill="#000000"/>
<text x="708.5" y="731" font-size="9.6" fill="#000" stroke="#000" stroke-width="0.12" textLength="51.2" lengthAdjust="spacingAndGlyphs">10 Feb 2020</text>
<rect x="773" y="719" width="1" height="2" fill="#000000"/>
<text x="772.5" y="731" font-size="9.6" fill="#000" stroke="#000" stroke-width="0.12" textLength="51.2" lengthAdjust="spacingAndGlyphs">28 Feb 2020</text>
<rect x="837" y="719" width="1" height="2" fill="#000000"/>
<text x="836.5" y="731" font-size="9.6" fill="#000" stroke="#000" stroke-width="0.12" textLength="52.0" lengthAdjust="spacingAndGlyphs">18 Mar 2020</text>
<rect x="901" y="719" width="1" height="2" fill="#000000"/>
<text x="900.5" y="731" font-size="9.6" fill="#000" stroke="#000" stroke-width="0.12" textLength="45.5" lengthAdjust="spacingAndGlyphs">6 Apr 2020</text>
<rect x="965" y="719" width="1" height="2" fill="#000000"/>
<text x="964.5" y="731" font-size="9.6" fill="#000" stroke="#000" stroke-width="0.12" textLength="50.5" lengthAdjust="spacingAndGlyphs">24 Apr 2020</text>
<rect x="1029" y="719" width="1" height="2" fill="#000000"/>
<text x="1028.5" y="731" font-size="9.6" fill="#000" stroke="#000" stroke-width="0.12" textLength="54.1" lengthAdjust="spacingAndGlyphs">13 May 2020</text>
<rect x="1093" y="719" width="1" height="2" fill="#000000"/>
<text x="1092.5" y="731" font-size="9.6" fill="#000" stroke="#000" stroke-width="0.12" textLength="43.6" lengthAdjust="spacingAndGlyphs">1 Jun 2020</text>
<rect x="1157" y="719" width="1" height="2" fill="#000000"/>
<text x="1156.5" y="731" font-size="9.6" fill="#000" stroke="#000" stroke-width="0.12" textLength="48.6" lengthAdjust="spacingAndGlyphs">19 Jun 2020</text>
<rect x="1221" y="719" width="1" height="2" fill="#000000"/>
<text x="1220.5" y="731" font-size="9.6" fill="#000" stroke="#000" stroke-width="0.12" textLength="41.4" lengthAdjust="spacingAndGlyphs">8 Jul 2020</text>
<rect x="0" y="739" width="1639" height="25" fill="#f0f0f0"/>
<rect x="0" y="739" width="1639" height="1" fill="#eaeaea"/>
<rect x="0" y="740" width="1639" height="1" fill="#f8f8f8"/>
<rect x="0" y="741" width="1639" height="1" fill="#000000"/>
<rect x="1" y="742" width="1" height="18" fill="#707070"/>
<rect x="110" y="741" width="100" height="19" fill="#ffffff"/>
<rect x="110" y="741" width="1" height="19" fill="#000000"/>
<rect x="209" y="741" width="1" height="19" fill="#000000"/>
<rect x="110" y="759" width="100" height="1" fill="#000000"/>
<rect x="111" y="741" width="98" height="1" fill="#ffffff"/>
<rect x="314" y="744" width="1" height="14" fill="#606060"/>
<rect x="418" y="744" width="1" height="14" fill="#606060"/>
<rect x="522" y="744" width="1" height="14" fill="#606060"/>
<rect x="622" y="744" width="1" height="14" fill="#606060"/>
<rect x="722" y="744" width="1" height="14" fill="#606060"/>
<rect x="826" y="744" width="1" height="14" fill="#606060"/>
<rect x="898" y="744" width="1" height="14" fill="#606060"/>
<rect x="978" y="744" width="1" height="14" fill="#606060"/>
<rect x="1058" y="744" width="1" height="14" fill="#606060"/>
<rect x="1138" y="744" width="1" height="14" fill="#606060"/>
<rect x="1215" y="744" width="1" height="14" fill="#606060"/>
<rect x="1298" y="744" width="1" height="14" fill="#606060"/>
<rect x="1382" y="744" width="1" height="14" fill="#606060"/>
<rect x="1462" y="744" width="1" height="14" fill="#606060"/>
<rect x="1562" y="744" width="1" height="14" fill="#606060"/>
<text x="18.5" y="755.6" font-size="12.3" fill="#707070" textLength="79.5" lengthAdjust="spacingAndGlyphs">EURUSD,Daily</text>
<text x="120.2" y="755.6" font-size="12.3" fill="#000" textLength="78.8" lengthAdjust="spacingAndGlyphs">USDCHF,Daily</text>
<text x="221.5" y="755.6" font-size="12.3" fill="#707070" textLength="81.1" lengthAdjust="spacingAndGlyphs">AUDUSD,Daily</text>
<text x="325.2" y="755.6" font-size="12.3" fill="#707070" textLength="80.8" lengthAdjust="spacingAndGlyphs">USDCAD,Daily</text>
<text x="428.2" y="755.6" font-size="12.3" fill="#707070" textLength="83.2" lengthAdjust="spacingAndGlyphs">USDCNH,Daily</text>
<text x="533.2" y="755.6" font-size="12.3" fill="#707070" textLength="77.2" lengthAdjust="spacingAndGlyphs">EURUSD,M15</text>
<text x="632.9" y="755.6" font-size="12.3" fill="#707070" textLength="77.8" lengthAdjust="spacingAndGlyphs">GBPUSD,M30</text>
<text x="732.9" y="755.6" font-size="12.3" fill="#707070" textLength="81.1" lengthAdjust="spacingAndGlyphs">XAUUSD,Daily</text>
<text x="837.4" y="755.6" font-size="12.3" fill="#707070" textLength="49.0" lengthAdjust="spacingAndGlyphs">HK50,H1</text>
<text x="909.3" y="755.6" font-size="12.3" fill="#707070" textLength="56.3" lengthAdjust="spacingAndGlyphs">UK100,H1</text>
<text x="989" y="755.6" font-size="12.3" fill="#707070" textLength="56.5" lengthAdjust="spacingAndGlyphs">UK100,H1</text>
<text x="1069" y="755.6" font-size="12.3" fill="#707070" textLength="56.4" lengthAdjust="spacingAndGlyphs">GER30,H1</text>
<text x="1148" y="755.6" font-size="12.3" fill="#707070" textLength="54.6" lengthAdjust="spacingAndGlyphs">FRA40,H1</text>
<text x="1224.4" y="755.6" font-size="12.3" fill="#707070" textLength="62.6" lengthAdjust="spacingAndGlyphs">USOil,Daily</text>
<text x="1308.5" y="755.6" font-size="12.3" fill="#707070" textLength="62.0" lengthAdjust="spacingAndGlyphs">USDJPY,H1</text>
<text x="1393.3" y="755.6" font-size="12.3" fill="#707070" textLength="56.5" lengthAdjust="spacingAndGlyphs">DJ30,M15</text>
<text x="1472.3" y="755.6" font-size="12.3" fill="#707070" textLength="78.7" lengthAdjust="spacingAndGlyphs">CHINA300,H4</text>
<path d="M1616.5 747 L1616.5 753.4 L1612.3 750.2 Z" fill="#a0a0a0"/><path d="M1631 747 L1631 753.4 L1635.2 750.2 Z" fill="#a0a0a0"/>
<rect x="0" y="761" width="1639" height="3" fill="#f7f7f7"/>
</svg>
</body></html>
